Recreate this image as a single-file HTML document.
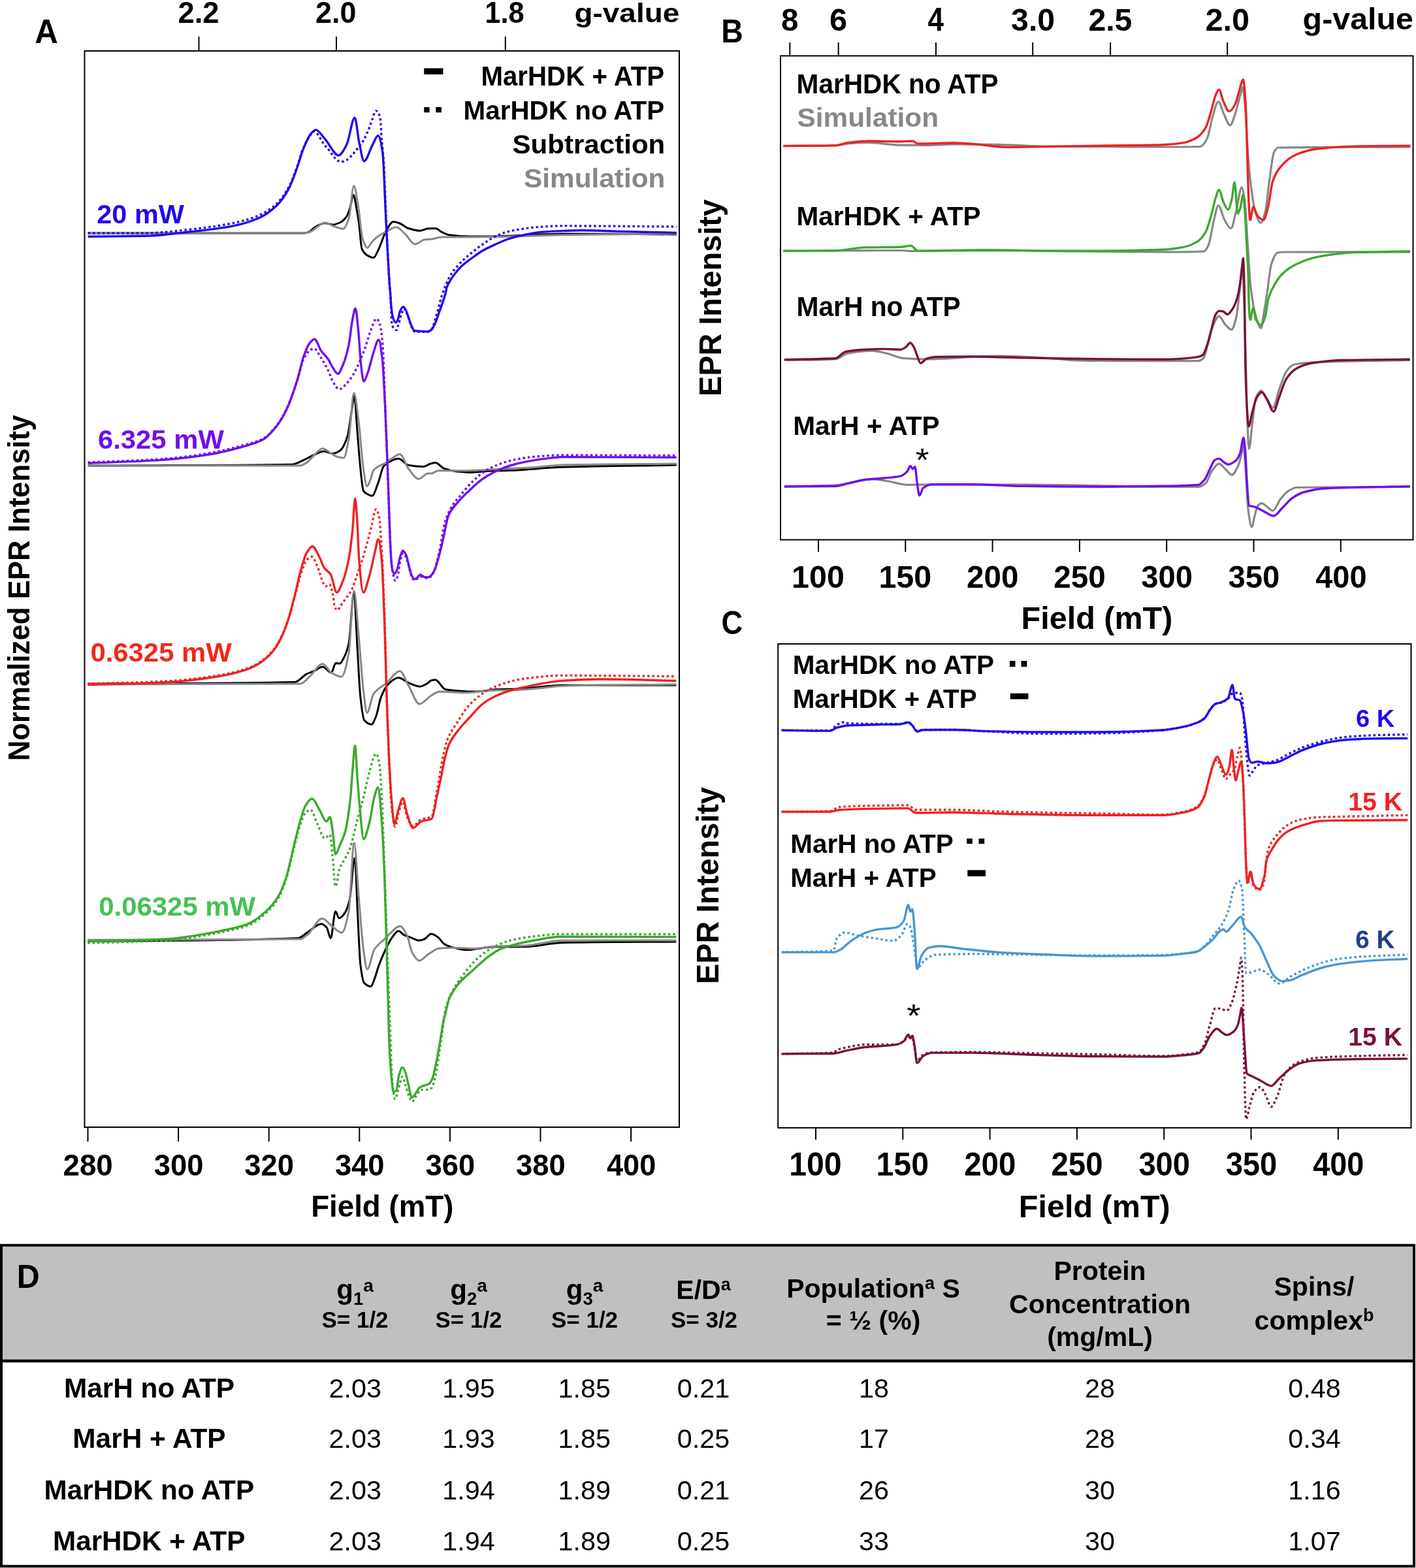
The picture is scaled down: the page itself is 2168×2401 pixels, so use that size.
<!DOCTYPE html>
<html><head><meta charset="utf-8"><title>EPR figure</title>
<style>
html,body{margin:0;padding:0;background:#fff;}
svg{display:block;}
</style></head>
<body>
<svg width="2168" height="2401" viewBox="0 0 2168 2401">
<rect width="2168" height="2401" fill="#fff"/>
<g fill="none" stroke="#000" stroke-width="2">
<rect x="129.5" y="78" width="910.5" height="1648"/>
<line x1="304.5" y1="56" x2="304.5" y2="78"/>
<line x1="515.0" y1="56" x2="515.0" y2="78"/>
<line x1="773.8" y1="56" x2="773.8" y2="78"/>
<line x1="134.5" y1="1726" x2="134.5" y2="1748"/>
<line x1="273.1" y1="1726" x2="273.1" y2="1748"/>
<line x1="411.7" y1="1726" x2="411.7" y2="1748"/>
<line x1="550.3" y1="1726" x2="550.3" y2="1748"/>
<line x1="688.9" y1="1726" x2="688.9" y2="1748"/>
<line x1="827.5" y1="1726" x2="827.5" y2="1748"/>
<line x1="966.1" y1="1726" x2="966.1" y2="1748"/>
</g>
<g fill="none" stroke-linejoin="round">
<path d="M134.7 357.0C223.1 357.0 311.6 357.0 400.0 357.0C421.7 357.0 443.3 357.0 465.0 357.0C468.3 357.0 471.7 355.5 475.0 354.0C477.3 352.9 479.7 349.3 482.0 348.0C487.3 345.0 492.5 341.8 497.8 341.8C501.9 341.8 505.9 344.0 510.0 344.0C513.3 344.0 516.7 342.5 520.0 341.0C523.6 339.4 527.2 336.4 530.8 331.3C532.5 328.9 534.3 323.3 536.0 318.0C537.7 312.7 539.5 298.4 541.2 298.4C542.8 298.4 544.4 311.6 546.0 320.0C547.3 327.0 548.7 335.2 550.0 345.0C551.3 354.8 552.7 377.8 554.0 380.8C557.2 388.1 560.5 390.2 563.7 391.8C566.5 393.2 569.2 394.5 572.0 394.5C574.7 394.5 577.3 386.3 580.0 381.0C583.7 373.6 587.5 359.5 591.2 353.3C594.9 347.2 598.5 339.6 602.2 339.6C605.5 339.6 608.7 340.9 612.0 342.0C616.1 343.4 620.1 347.9 624.2 349.2C630.6 351.3 637.0 353.3 643.4 353.3C647.3 353.3 651.1 350.1 655.0 350.0C658.9 349.9 662.7 349.8 666.6 349.8C669.9 349.8 673.2 353.8 676.5 355.3C680.2 357.0 683.8 359.2 687.5 359.7C698.5 361.1 709.4 361.9 720.4 361.9C729.6 361.9 738.7 361.9 747.9 361.9C758.9 361.9 769.9 361.6 780.9 361.3C795.5 360.9 810.2 359.7 824.8 359.1C836.5 358.7 848.3 358.0 860.0 358.0C918.6 358.0 977.2 358.7 1035.8 359.0" stroke="#000" stroke-width="3.0"/>
<path d="M134.7 357.0C244.8 357.0 354.9 357.0 465.0 357.0C468.3 357.0 471.7 356.0 475.0 355.0C478.3 354.0 481.7 350.1 485.0 348.0C489.3 345.4 493.5 341.0 497.8 341.0C501.9 341.0 505.9 344.6 510.0 346.0C515.1 347.8 520.2 350.5 525.3 350.5C528.2 350.5 531.1 343.2 534.0 335.0C536.6 327.7 539.2 284.6 541.8 284.6C544.2 284.6 546.6 305.7 549.0 320.0C551.0 332.0 553.0 358.7 555.0 365.0C557.5 372.8 559.9 379.4 562.4 379.4C564.9 379.4 567.5 372.7 570.0 370.0C573.3 366.5 576.7 363.2 580.0 361.0C583.7 358.5 587.5 356.9 591.2 355.0C596.2 352.5 601.3 347.8 606.3 347.8C610.9 347.8 615.4 354.0 620.0 358.0C625.1 362.4 630.1 373.9 635.2 373.9C640.1 373.9 645.1 367.6 650.0 367.0C653.3 366.6 656.7 366.6 660.0 366.3C665.5 365.8 671.0 363.0 676.5 363.0C689.3 363.0 702.2 363.0 715.0 363.0C733.3 363.0 751.7 362.8 770.0 362.5C788.3 362.2 806.5 361.4 824.8 360.8C836.5 360.4 848.3 359.9 860.0 359.7C918.6 358.7 977.2 358.6 1035.8 358.0" stroke="#878787" stroke-width="3.0"/>
<path d="M134.7 357.0C163.9 357.0 193.0 357.0 222.2 357.0C246.5 357.0 270.8 353.4 295.1 350.8C315.1 348.6 335.0 346.0 355.0 342.0C368.7 339.3 382.3 335.7 396.0 330.0C405.2 326.2 414.4 320.4 423.6 312.0C430.0 306.2 436.5 296.8 442.9 285.0C446.5 278.3 450.2 267.7 453.8 258.0C457.5 248.2 461.1 234.2 464.8 226.0C468.5 217.8 472.1 210.1 475.8 206.0C477.7 203.8 479.7 201.0 481.6 201.0C483.2 201.0 484.8 203.8 486.4 205.7C489.3 209.2 492.3 215.8 495.2 219.8C498.1 223.8 501.1 226.6 504.0 230.3C506.9 233.9 509.8 239.0 512.7 241.7C515.6 244.4 518.6 247.9 521.5 247.9C524.4 247.9 527.4 246.5 530.3 245.2C533.2 243.9 536.2 240.3 539.1 237.3C542.0 234.3 545.0 230.6 547.9 226.8C550.8 223.0 553.8 219.5 556.7 214.5C559.6 209.5 562.6 202.5 565.5 195.2C567.0 191.5 568.4 186.6 569.9 182.9C571.8 178.1 573.7 169.7 575.6 169.7C577.5 169.7 579.4 172.6 581.3 177.6C581.9 179.2 582.5 184.1 583.1 190.8C583.4 194.2 583.7 204.2 584.0 208.4C584.6 216.3 585.1 219.7 585.7 226.0C586.3 232.7 586.9 238.7 587.5 248.0C588.7 266.1 589.8 305.1 591.0 330.0C592.9 370.5 594.8 413.9 596.7 440.0C597.1 445.9 597.6 448.7 598.0 455.0C598.7 464.7 599.3 493.4 600.0 496.0C601.3 501.2 602.7 502.7 604.0 503.7C605.2 504.6 606.3 505.4 607.5 505.4C608.3 505.4 609.0 500.4 609.8 497.9C610.6 495.4 611.3 493.2 612.1 490.4C612.7 488.3 613.2 485.3 613.8 483.5C614.6 480.9 615.4 479.2 616.2 477.1C616.8 475.6 617.3 472.5 617.9 472.5C619.3 472.5 620.6 475.6 622.0 478.0C623.3 480.3 624.7 484.4 626.0 488.0C627.3 491.6 628.7 497.2 630.0 500.0C631.5 503.3 633.1 507.3 634.6 507.5C637.3 507.9 640.0 507.9 642.7 508.0C646.5 508.2 650.4 508.5 654.2 508.5C656.1 508.5 658.1 507.2 660.0 505.5C660.7 504.9 661.3 503.4 662.0 502.0C664.0 497.8 666.0 490.6 668.0 484.0C671.0 474.2 674.0 459.9 677.0 451.0C679.9 442.3 682.9 435.1 685.8 429.0C687.8 424.8 689.9 421.0 691.9 418.0C694.8 413.6 697.8 410.3 700.7 407.0C704.3 402.9 708.0 399.3 711.6 396.0C716.0 392.0 720.4 388.5 724.8 385.0C729.6 381.2 734.3 377.3 739.1 374.0C745.0 369.9 750.8 365.9 756.7 363.0C762.9 359.9 769.2 357.0 775.4 355.3C782.7 353.3 790.1 352.0 797.4 350.9C806.5 349.5 815.7 348.2 824.8 347.6C836.5 346.8 848.3 345.9 860.0 345.9C918.6 345.9 977.2 346.7 1035.8 347.1" stroke="#2108ee" stroke-width="3.4" stroke-dasharray="3.4 4.0"/>
<path d="M134.7 362.3C163.9 362.0 193.0 361.9 222.2 361.3C246.5 360.8 270.8 357.2 295.1 354.5C315.1 352.3 335.0 350.2 355.0 346.4C368.7 343.8 382.3 339.9 396.0 334.0C405.2 330.0 414.4 323.6 423.6 314.8C430.0 308.7 436.5 299.4 442.9 287.4C446.5 280.6 450.2 269.9 453.8 260.0C457.5 250.0 461.1 235.8 464.8 227.0C468.5 218.2 472.1 209.1 475.8 205.0C478.4 202.2 480.9 198.9 483.5 198.9C488.3 198.9 493.0 208.0 497.8 213.2C504.7 220.6 511.5 237.9 518.4 237.9C522.5 237.9 526.7 229.3 530.8 221.4C534.9 213.6 539.0 180.2 543.1 180.2C545.4 180.2 547.7 208.3 550.0 218.7C552.5 229.8 554.9 246.7 557.4 246.7C561.8 246.7 566.2 229.2 570.6 221.4C573.3 216.5 576.1 207.7 578.8 207.7C581.1 207.7 583.4 218.1 585.7 232.4C587.5 243.8 589.4 308.1 591.2 342.3C593.0 376.5 594.9 414.2 596.7 438.5C597.0 442.9 597.4 445.6 597.7 450.0C598.1 454.9 598.4 463.5 598.8 467.3C599.6 475.6 600.4 481.9 601.2 484.6C602.7 489.7 604.3 493.9 605.8 493.9C606.9 493.9 608.1 491.5 609.2 489.2C610.4 486.8 611.5 478.4 612.7 476.0C614.2 472.8 615.8 469.6 617.3 469.6C618.8 469.6 620.4 473.1 621.9 476.0C623.1 478.2 624.2 482.5 625.4 485.8C626.9 490.1 628.5 495.8 630.0 499.0C631.5 502.2 633.1 506.3 634.6 506.5C637.3 506.9 640.0 506.9 642.7 507.1C646.5 507.3 650.4 507.7 654.2 507.7C656.1 507.7 658.1 506.6 660.0 505.4C661.9 504.2 663.9 500.1 665.8 496.2C667.7 492.4 669.6 485.9 671.5 480.6C673.4 475.3 675.4 470.1 677.3 464.4C678.8 459.9 680.4 455.7 681.9 450.0C682.7 447.2 683.4 442.2 684.2 440.0C686.0 434.7 687.9 432.1 689.7 429.0C692.3 424.7 694.8 421.2 697.4 418.0C700.7 413.9 704.0 410.0 707.3 407.0C712.0 402.6 716.8 399.5 721.5 396.0C726.6 392.2 731.8 388.1 736.9 385.0C744.2 380.6 751.6 377.3 758.9 374.0C766.2 370.7 773.6 367.5 780.9 365.2C788.2 362.9 795.6 361.1 802.9 359.7C812.0 357.9 821.2 356.1 830.3 355.3C840.2 354.5 850.1 354.0 860.0 353.6C870.3 353.2 880.5 352.8 890.8 352.8C911.5 352.8 932.1 354.0 952.8 354.5C980.5 355.2 1008.1 355.8 1035.8 356.5" stroke="#2108ee" stroke-width="3.4"/>
<path d="M134.7 713.0C238.8 712.4 342.9 712.9 447.0 711.2C452.9 711.1 458.9 707.0 464.8 704.5C470.0 702.3 475.3 698.9 480.5 696.7C485.7 694.5 490.9 691.1 496.1 691.1C500.4 691.1 504.7 694.5 509.0 694.5C512.9 694.5 516.8 692.5 520.7 690.0C524.4 687.6 528.1 680.0 531.8 668.8C534.0 662.0 536.3 641.5 538.5 628.6C539.8 620.9 541.2 606.3 542.5 606.3C544.0 606.3 545.5 642.2 547.0 660.0C548.6 679.4 550.3 703.0 551.9 717.9C553.4 731.6 554.9 749.0 556.4 751.4C558.6 754.9 560.8 756.0 563.0 757.0C565.3 758.1 567.5 759.2 569.8 759.2C572.8 759.2 575.7 747.6 578.7 740.2C581.7 732.8 584.6 716.9 587.6 713.4C591.1 709.3 594.5 707.5 598.0 706.0C602.0 704.3 606.0 702.3 610.0 702.3C615.2 702.3 620.4 711.4 625.6 712.3C633.1 713.6 640.5 714.5 648.0 714.5C652.0 714.5 656.0 710.6 660.0 709.7C662.2 709.2 664.4 708.6 666.6 708.6C671.0 708.6 675.4 715.9 679.8 717.4C686.5 719.8 693.3 721.3 700.0 722.0C706.8 722.7 713.6 723.4 720.4 723.4C729.6 723.4 738.7 721.6 747.9 721.2C762.6 720.6 777.2 720.7 791.9 720.1C802.9 719.7 813.8 718.2 824.8 717.4C836.5 716.6 848.3 715.6 860.0 715.2C918.6 713.4 977.2 713.1 1035.8 712.1" stroke="#000" stroke-width="3.0"/>
<path d="M134.7 713.0C243.1 713.0 351.6 713.0 460.0 713.0C463.3 713.0 466.7 710.2 470.0 708.0C474.0 705.4 478.0 699.5 482.0 696.0C486.0 692.5 489.9 686.7 493.9 686.7C497.6 686.7 501.3 690.8 505.0 693.0C508.3 694.9 511.7 698.0 515.0 699.0C518.7 700.1 522.5 701.2 526.2 701.2C528.8 701.2 531.4 685.7 534.0 672.0C536.6 658.1 539.3 601.8 541.9 601.8C544.5 601.8 547.1 630.8 549.7 651.0C551.9 668.4 554.2 703.7 556.4 718.0C558.3 729.9 560.1 744.7 562.0 744.7C563.7 744.7 565.3 738.9 567.0 735.0C568.7 731.1 570.3 721.9 572.0 720.0C578.7 712.3 585.3 712.5 592.0 708.0C594.7 706.2 597.3 703.7 600.0 702.0C604.1 699.5 608.1 695.6 612.2 695.6C616.7 695.6 621.1 712.4 625.6 718.0C630.8 724.5 636.0 733.5 641.2 733.5C645.8 733.5 650.4 725.0 655.0 725.0C656.7 725.0 658.3 725.1 660.0 725.1C663.7 725.1 667.3 720.7 671.0 720.7C685.7 720.7 700.3 720.7 715.0 720.7C733.3 720.7 751.6 718.8 769.9 717.9C784.3 717.2 798.6 716.8 813.0 716.0C828.7 715.1 844.3 712.3 860.0 711.9C918.6 710.6 977.2 710.6 1035.8 710.0" stroke="#878787" stroke-width="3.0"/>
<path d="M134.7 708.0C172.0 706.3 209.2 705.5 246.5 703.0C270.8 701.4 295.1 698.0 319.4 694.0C335.6 691.4 351.8 687.3 368.0 683.0C379.4 679.9 390.9 677.7 402.3 672.0C409.8 668.3 417.2 659.4 424.7 650.0C429.1 644.4 433.6 636.9 438.0 628.0C441.0 622.0 444.0 614.0 447.0 606.0C450.0 598.1 452.9 589.3 455.9 580.0C458.9 570.7 461.8 556.0 464.8 550.0C467.8 543.9 470.8 539.2 473.8 537.0C476.0 535.4 478.3 533.7 480.5 533.7C484.2 533.7 487.9 542.5 491.6 548.0C495.3 553.6 499.1 560.3 502.8 568.0C505.2 572.9 507.6 581.2 510.0 585.0C513.2 590.1 516.3 596.2 519.5 596.2C523.0 596.2 526.5 591.4 530.0 588.0C533.3 584.7 536.7 580.3 540.0 575.0C543.3 569.7 546.7 562.4 550.0 555.0C553.3 547.6 556.7 539.3 560.0 530.0C562.7 522.6 565.3 511.5 568.0 505.0C570.8 498.1 573.7 488.0 576.5 488.0C578.3 488.0 580.2 492.4 582.0 498.0C583.3 502.1 584.7 513.9 586.0 530.0C587.3 546.1 588.7 594.3 590.0 628.0C591.4 664.2 592.9 699.6 594.3 740.0C595.2 765.4 596.1 801.9 597.0 822.0C597.7 836.9 598.3 850.9 599.0 858.0C600.0 868.7 601.0 875.8 602.0 880.0C603.1 884.4 604.1 889.2 605.2 889.2C606.5 889.2 607.9 884.8 609.2 880.6C610.5 876.6 611.7 862.5 613.0 858.0C614.4 852.9 615.9 847.1 617.3 847.1C618.9 847.1 620.4 850.7 622.0 854.0C623.3 856.8 624.7 863.3 626.0 868.0C627.3 872.7 628.7 879.3 630.0 882.0C631.5 885.1 633.1 888.5 634.6 888.5C636.4 888.5 638.2 886.4 640.0 885.5C642.0 884.5 644.0 883.0 646.0 883.0C649.0 883.0 652.0 885.5 655.0 885.5C656.7 885.5 658.3 884.0 660.0 882.5C661.9 880.8 663.9 876.8 665.8 872.0C667.2 868.5 668.6 861.8 670.0 856.0C671.3 850.5 672.7 844.5 674.0 838.0C676.3 826.8 678.6 809.0 680.9 801.0C683.8 790.8 686.8 784.3 689.7 779.0C695.2 769.1 700.7 763.7 706.2 757.0C712.8 749.0 719.3 741.2 725.9 735.0C730.3 730.8 734.7 727.0 739.1 724.0C745.7 719.5 752.3 715.7 758.9 713.0C768.1 709.2 777.2 706.2 786.4 704.2C795.5 702.2 804.7 700.6 813.8 699.8C829.2 698.4 844.6 697.0 860.0 697.0C918.6 697.0 977.2 697.3 1035.8 697.5" stroke="#700ded" stroke-width="3.4" stroke-dasharray="3.4 4.0"/>
<path d="M134.7 709.3C172.0 707.7 209.2 706.8 246.5 704.4C270.8 702.8 295.1 699.8 319.4 696.0C335.6 693.5 351.8 689.5 368.0 685.0C379.4 681.9 390.9 679.3 402.3 673.3C409.8 669.4 417.2 660.6 424.7 651.0C429.1 645.3 433.6 637.6 438.0 628.6C441.0 622.5 444.0 614.5 447.0 606.3C450.0 598.2 452.9 589.4 455.9 579.5C458.9 569.6 461.8 554.3 464.8 546.0C467.8 537.6 470.8 529.6 473.8 525.9C476.4 522.7 479.0 519.2 481.6 519.2C484.9 519.2 488.3 532.3 491.6 537.1C495.3 542.5 499.1 545.0 502.8 550.5C504.9 553.6 506.9 558.9 509.0 562.0C511.8 566.2 514.5 572.3 517.3 572.3C519.9 572.3 522.4 564.8 525.0 559.0C528.0 552.2 531.0 542.2 534.0 528.1C535.9 519.4 537.7 499.2 539.6 490.0C541.1 482.6 542.6 472.3 544.1 472.3C545.6 472.3 547.1 491.9 548.6 506.0C550.1 519.8 551.5 550.3 553.0 561.6C554.3 571.9 555.7 584.0 557.0 584.0C559.0 584.0 561.0 576.3 563.0 571.0C566.0 563.1 569.0 547.9 572.0 539.3C574.6 531.8 577.2 520.3 579.8 520.3C581.7 520.3 583.5 534.8 585.4 550.5C586.9 563.1 588.4 597.7 589.9 628.6C591.4 658.8 592.8 700.7 594.3 740.2C595.2 765.4 596.2 798.1 597.1 820.0C597.7 833.3 598.2 847.2 598.8 854.6C599.4 862.5 600.0 869.5 600.6 871.9C601.6 875.8 602.5 878.9 603.5 878.9C605.0 878.9 606.6 875.4 608.1 871.9C609.4 868.9 610.8 858.9 612.1 854.6C613.6 849.7 615.2 843.1 616.7 843.1C618.4 843.1 620.2 846.5 621.9 850.0C623.1 852.4 624.2 858.9 625.4 863.3C626.9 869.1 628.5 877.5 630.0 880.6C631.5 883.7 633.1 886.9 634.6 886.9C636.3 886.9 638.1 884.9 639.8 883.5C641.0 882.6 642.1 880.0 643.3 880.0C644.3 880.0 645.2 880.7 646.2 881.2C647.3 881.8 648.5 883.3 649.6 883.5C651.5 883.8 653.5 884.0 655.4 884.0C656.9 884.0 658.5 882.5 660.0 881.2C661.9 879.5 663.9 876.1 665.8 871.9C667.3 868.6 668.9 862.7 670.4 857.5C671.9 852.3 673.5 846.4 675.0 840.2C676.5 834.0 678.1 826.7 679.6 820.0C681.9 810.0 684.1 795.2 686.4 790.0C691.5 778.1 696.7 774.1 701.8 768.0C707.3 761.5 712.7 756.6 718.2 751.4C724.4 745.5 730.7 739.4 736.9 734.9C742.8 730.6 748.6 727.0 754.5 724.0C763.3 719.6 772.1 715.7 780.9 713.0C790.1 710.2 799.2 708.1 808.4 706.4C821.2 704.1 834.0 702.2 846.8 700.9C851.2 700.5 855.6 699.8 860.0 699.8C918.6 699.8 977.2 700.2 1035.8 700.4" stroke="#700ded" stroke-width="3.4"/>
<path d="M134.2 1047.0C239.9 1046.2 345.7 1046.8 451.4 1044.5C457.4 1044.4 463.3 1035.2 469.3 1032.2C473.0 1030.3 476.8 1029.4 480.5 1027.7C485.0 1025.7 489.4 1021.0 493.9 1021.0C498.4 1021.0 502.8 1030.0 507.3 1030.0C509.5 1030.0 511.8 1015.4 514.0 1015.4C516.0 1015.4 518.0 1016.0 520.0 1016.0C522.5 1016.0 524.9 1010.2 527.4 1005.4C529.6 1001.1 531.8 995.4 534.0 985.3C536.6 973.2 539.3 907.2 541.9 907.2C543.6 907.2 545.3 962.7 547.0 990.0C548.6 1016.2 550.3 1053.2 551.9 1067.9C553.8 1084.7 555.6 1100.3 557.5 1102.5C561.2 1107.0 565.0 1109.2 568.7 1109.2C571.1 1109.2 573.6 1102.0 576.0 1096.0C578.4 1090.1 580.8 1074.0 583.2 1067.9C586.9 1058.5 590.6 1051.4 594.3 1047.8C599.5 1042.7 604.8 1037.8 610.0 1037.8C615.2 1037.8 620.4 1043.6 625.6 1045.6C631.5 1047.9 637.5 1051.2 643.4 1051.2C647.3 1051.2 651.1 1048.3 655.0 1046.0C656.7 1045.0 658.3 1042.4 660.0 1042.0C662.2 1041.4 664.4 1041.0 666.6 1041.0C671.7 1041.0 676.9 1054.8 682.0 1055.8C689.3 1057.2 696.7 1057.5 704.0 1058.0C711.3 1058.5 718.7 1059.1 726.0 1059.1C737.0 1059.1 748.0 1056.4 759.0 1055.8C770.0 1055.3 780.9 1055.2 791.9 1054.7C802.9 1054.2 813.8 1052.9 824.8 1052.0C836.5 1051.1 848.3 1049.2 860.0 1049.2C918.4 1049.2 976.9 1049.2 1035.3 1049.2" stroke="#000" stroke-width="3.0"/>
<path d="M134.2 1047.8C242.8 1047.5 351.4 1047.8 460.0 1047.0C464.7 1047.0 469.3 1040.0 474.0 1036.0C480.6 1030.3 487.3 1016.6 493.9 1016.6C498.4 1016.6 502.8 1027.4 507.3 1030.0C512.5 1033.0 517.7 1036.2 522.9 1036.2C526.6 1036.2 530.3 1019.6 534.0 1000.0C536.6 986.0 539.3 904.9 541.9 904.9C544.5 904.9 547.1 952.7 549.7 980.0C551.9 1003.5 554.2 1039.3 556.4 1057.0C558.3 1071.8 560.1 1091.4 562.0 1091.4C565.3 1091.4 568.7 1066.9 572.0 1062.3C578.7 1053.1 585.4 1051.4 592.1 1045.6C598.8 1039.8 605.5 1027.7 612.2 1027.7C616.7 1027.7 621.1 1042.5 625.6 1050.0C631.2 1059.3 636.7 1078.0 642.3 1078.0C648.2 1078.0 654.1 1068.5 660.0 1065.2C664.4 1062.7 668.8 1059.1 673.2 1059.1C687.1 1059.1 701.1 1060.8 715.0 1060.8C726.0 1060.8 736.9 1057.9 747.9 1057.5C762.6 1056.9 777.2 1057.0 791.9 1056.5C802.9 1056.1 813.8 1054.9 824.8 1054.0C836.5 1053.0 848.3 1050.9 860.0 1050.5C918.4 1048.8 976.9 1048.8 1035.3 1048.0" stroke="#878787" stroke-width="3.0"/>
<path d="M134.2 1047.0C175.0 1045.7 215.7 1045.2 256.5 1043.0C282.8 1041.6 309.1 1038.2 335.4 1034.0C350.3 1031.6 365.1 1028.2 380.0 1023.0C387.4 1020.4 394.9 1016.3 402.3 1011.0C408.3 1006.8 414.2 1000.8 420.2 993.0C424.7 987.2 429.1 978.7 433.6 969.0C436.6 962.5 439.5 954.1 442.5 945.0C445.5 935.9 448.4 923.8 451.4 913.0C454.4 902.1 457.4 888.9 460.4 880.0C463.4 871.2 466.3 861.2 469.3 858.0C471.9 855.2 474.5 852.5 477.1 852.5C480.3 852.5 483.4 861.9 486.6 869.0C488.6 873.5 490.6 882.5 492.6 887.0C494.6 891.5 496.5 897.8 498.5 897.8C500.5 897.8 502.5 894.8 504.5 894.8C506.1 894.8 507.8 902.0 509.4 908.7C510.4 912.8 511.4 926.1 512.4 928.6C513.7 931.9 515.1 934.5 516.4 934.5C518.0 934.5 519.7 929.9 521.3 927.6C524.0 923.9 526.6 920.5 529.3 916.7C532.6 912.0 535.9 908.4 539.2 901.8C541.8 896.5 544.5 886.5 547.1 879.0C549.4 872.3 551.8 866.4 554.1 859.1C557.4 848.8 560.7 836.8 564.0 824.4C565.7 818.2 567.3 810.9 569.0 804.6C571.3 795.9 573.6 779.8 575.9 779.8C577.6 779.8 579.2 785.9 580.9 794.6C581.6 798.1 582.2 810.2 582.9 819.4C583.5 828.2 584.2 837.5 584.8 849.2C586.2 875.1 587.6 908.3 589.0 950.0C590.0 980.8 591.1 1035.6 592.1 1067.9C593.6 1114.8 595.1 1155.4 596.6 1185.0C597.7 1207.4 598.9 1230.9 600.0 1240.0C601.7 1253.7 603.4 1266.0 605.1 1266.0C606.7 1266.0 608.4 1250.2 610.0 1245.0C612.3 1237.7 614.5 1228.0 616.8 1228.0C618.9 1228.0 620.9 1245.3 623.0 1250.0C626.1 1257.1 629.3 1265.0 632.4 1265.0C636.5 1265.0 640.6 1256.9 644.7 1255.0C650.1 1252.5 655.6 1253.5 661.0 1250.0C663.7 1248.3 666.5 1224.2 669.2 1210.0C672.7 1191.7 676.3 1165.5 679.8 1151.0C682.0 1142.0 684.2 1134.1 686.4 1129.0C690.8 1118.8 695.2 1114.1 699.6 1107.0C704.3 1099.4 709.1 1090.8 713.8 1085.0C719.3 1078.3 724.8 1073.1 730.3 1068.5C735.4 1064.2 740.6 1060.3 745.7 1057.5C752.3 1053.8 758.9 1051.0 765.5 1048.7C774.3 1045.6 783.1 1042.6 791.9 1041.0C802.9 1039.0 813.8 1037.6 824.8 1036.6C835.8 1035.6 846.8 1034.4 857.8 1034.4C917.0 1034.4 976.1 1035.2 1035.3 1035.6" stroke="#ee2222" stroke-width="3.4" stroke-dasharray="3.4 4.0"/>
<path d="M134.2 1048.6C175.0 1047.3 215.7 1046.8 256.5 1044.7C282.8 1043.3 309.1 1039.8 335.4 1035.5C350.3 1033.1 365.1 1029.7 380.0 1024.4C387.4 1021.7 394.9 1017.4 402.3 1012.1C408.3 1007.8 414.2 1002.0 420.2 994.2C424.7 988.3 429.1 979.7 433.6 969.7C436.6 963.1 439.5 954.6 442.5 945.1C445.5 935.6 448.4 923.4 451.4 911.6C454.4 899.7 457.4 884.2 460.4 873.7C463.4 863.3 466.3 851.8 469.3 846.9C472.3 842.0 475.2 836.8 478.2 836.8C481.9 836.8 485.7 846.7 489.4 853.6C491.6 857.8 493.9 866.0 496.1 869.2C499.4 874.0 502.8 874.3 506.1 879.3C509.3 884.1 512.5 907.2 515.7 907.2C518.8 907.2 522.0 897.2 525.1 889.3C528.1 881.8 531.0 871.1 534.0 855.8C535.9 846.2 537.7 831.1 539.6 813.4C541.0 800.5 542.3 763.2 543.7 763.2C544.8 763.2 545.9 783.9 547.0 800.0C547.9 813.2 548.8 845.0 549.7 855.8C551.9 882.5 554.2 907.2 556.4 907.2C559.4 907.2 562.3 892.5 565.3 882.6C568.3 872.7 571.2 856.6 574.2 844.7C575.9 838.0 577.5 825.7 579.2 825.7C580.9 825.7 582.6 839.7 584.3 855.8C585.8 870.0 587.3 915.5 588.8 956.3C589.9 986.2 591.0 1036.2 592.1 1067.9C593.6 1111.2 595.1 1152.0 596.6 1179.5C597.7 1200.3 598.9 1217.6 600.0 1230.0C601.2 1243.5 602.5 1261.9 603.7 1261.9C605.8 1261.9 607.9 1246.3 610.0 1240.0C612.3 1233.2 614.5 1222.3 616.8 1222.3C618.9 1222.3 620.9 1238.9 623.0 1245.0C626.1 1254.3 629.3 1267.9 632.4 1267.9C636.5 1267.9 640.6 1259.4 644.7 1257.8C650.1 1255.7 655.6 1256.6 661.0 1253.7C663.7 1252.3 666.5 1230.3 669.2 1218.2C671.3 1209.0 673.3 1199.9 675.4 1190.0C677.2 1181.2 679.1 1169.4 680.9 1162.0C683.1 1153.1 685.3 1144.9 687.5 1140.0C692.3 1129.5 697.0 1124.2 701.8 1118.0C708.4 1109.4 714.9 1103.2 721.5 1096.0C726.6 1090.4 731.8 1083.7 736.9 1079.5C742.4 1075.0 747.9 1071.3 753.4 1068.5C762.6 1063.8 771.7 1060.2 780.9 1057.5C791.9 1054.2 802.8 1051.9 813.8 1049.8C828.5 1047.0 843.1 1043.6 857.8 1042.6C878.5 1041.2 899.3 1040.0 920.0 1040.0C958.4 1040.0 996.9 1041.7 1035.3 1042.5" stroke="#ee2222" stroke-width="3.4"/>
<path d="M134.2 1441.4C241.6 1439.8 349.0 1441.0 456.4 1436.5C460.9 1436.3 465.5 1431.1 470.0 1428.3C477.3 1423.8 484.6 1414.7 491.9 1414.7C494.6 1414.7 497.3 1417.1 500.0 1420.0C502.1 1422.3 504.2 1436.5 506.3 1436.5C508.8 1436.5 511.2 1395.6 513.7 1395.6C515.5 1395.6 517.2 1406.0 519.0 1406.0C522.0 1406.0 525.0 1402.1 528.0 1398.0C530.5 1394.6 533.0 1387.1 535.5 1376.5C538.1 1365.6 540.6 1313.7 543.2 1313.7C544.7 1313.7 546.1 1372.5 547.6 1400.0C549.0 1426.9 550.5 1466.0 551.9 1477.4C553.7 1492.0 555.6 1502.7 557.4 1504.7C560.9 1508.6 564.4 1510.6 567.9 1510.6C569.6 1510.6 571.3 1504.2 573.0 1500.0C575.3 1494.4 577.5 1485.1 579.8 1478.9C583.3 1469.4 586.8 1461.1 590.3 1453.8C593.4 1447.4 596.5 1440.9 599.6 1436.7C603.1 1431.9 606.6 1425.5 610.1 1425.5C613.1 1425.5 616.0 1430.6 619.0 1432.0C622.2 1433.5 625.4 1434.3 628.6 1435.4C633.0 1436.9 637.4 1440.0 641.8 1440.0C644.5 1440.0 647.3 1439.0 650.0 1438.0C653.3 1436.8 656.7 1430.0 660.0 1430.0C663.7 1430.0 667.3 1432.9 671.0 1435.4C673.9 1437.4 676.9 1443.3 679.8 1445.3C682.4 1447.0 684.9 1448.2 687.5 1449.0C696.7 1451.8 705.8 1454.6 715.0 1454.6C722.3 1454.6 729.7 1452.7 737.0 1451.9C744.3 1451.1 751.7 1449.7 759.0 1449.7C773.6 1449.7 788.3 1449.7 802.9 1449.7C817.5 1449.7 832.2 1446.1 846.8 1444.7C851.2 1444.3 855.6 1443.7 860.0 1443.6C918.4 1442.4 976.9 1442.5 1035.3 1442.0" stroke="#000" stroke-width="3.0"/>
<path d="M134.2 1439.2C242.8 1438.8 351.4 1439.1 460.0 1438.0C464.0 1438.0 468.0 1433.3 472.0 1430.0C479.1 1424.2 486.1 1406.5 493.2 1406.5C498.1 1406.5 503.1 1414.4 508.0 1418.0C513.1 1421.7 518.1 1428.3 523.2 1428.3C526.8 1428.3 530.4 1413.3 534.0 1395.0C536.8 1380.9 539.5 1290.5 542.3 1290.5C544.5 1290.5 546.8 1344.0 549.0 1370.0C551.3 1397.2 553.7 1432.9 556.0 1450.0C558.1 1465.4 560.2 1484.2 562.3 1484.2C565.9 1484.2 569.6 1459.3 573.2 1453.8C578.9 1445.1 584.6 1441.9 590.3 1436.7C597.8 1429.9 605.2 1418.2 612.7 1418.2C616.2 1418.2 619.8 1425.7 623.3 1432.7C625.9 1437.9 628.6 1454.4 631.2 1459.0C634.7 1465.1 638.3 1471.0 641.8 1471.0C646.2 1471.0 650.6 1464.8 655.0 1461.8C656.7 1460.7 658.3 1459.5 660.0 1458.5C663.7 1456.3 667.3 1452.8 671.0 1452.4C678.3 1451.7 685.7 1451.3 693.0 1451.3C704.0 1451.3 715.0 1452.4 726.0 1452.4C737.0 1452.4 748.0 1449.6 759.0 1449.1C773.6 1448.5 788.3 1448.6 802.9 1448.0C821.9 1447.2 841.0 1440.4 860.0 1440.3C918.4 1440.1 976.9 1440.1 1035.3 1440.0" stroke="#878787" stroke-width="3.0"/>
<path d="M134.2 1444.0C175.0 1442.7 215.7 1442.3 256.5 1440.0C282.8 1438.5 309.1 1433.1 335.4 1428.0C350.3 1425.1 365.1 1422.6 380.0 1417.0C389.1 1413.6 398.2 1406.1 407.3 1398.0C412.8 1393.1 418.2 1387.4 423.7 1379.0C428.2 1372.0 432.8 1362.0 437.3 1349.0C440.9 1338.6 444.6 1320.0 448.2 1306.0C451.8 1292.0 455.5 1275.6 459.1 1265.0C461.8 1257.0 464.6 1247.7 467.3 1245.0C470.0 1242.3 472.8 1240.0 475.5 1240.0C479.0 1240.0 482.5 1255.0 486.0 1262.0C489.8 1269.6 493.5 1283.7 497.3 1283.7C499.9 1283.7 502.4 1278.0 505.0 1278.0C506.3 1278.0 507.7 1298.1 509.0 1310.0C510.6 1323.9 512.1 1357.4 513.7 1357.4C515.8 1357.4 517.9 1335.6 520.0 1330.0C522.7 1322.9 525.3 1320.2 528.0 1315.0C530.5 1310.2 533.0 1306.4 535.5 1300.0C539.0 1291.0 542.5 1273.2 546.0 1260.0C550.0 1244.9 554.0 1231.2 558.0 1215.0C560.7 1204.2 563.3 1188.8 566.0 1180.0C569.3 1169.1 572.6 1154.1 575.9 1154.1C577.6 1154.1 579.3 1161.0 581.0 1170.0C582.3 1177.1 583.7 1204.1 585.0 1230.0C586.3 1255.9 587.7 1302.4 589.0 1340.0C590.3 1375.7 591.5 1413.9 592.8 1450.0C594.2 1488.9 595.5 1529.9 596.9 1565.0C598.3 1600.1 599.6 1650.5 601.0 1662.0C602.4 1673.5 603.7 1682.9 605.1 1682.9C606.7 1682.9 608.4 1673.0 610.0 1668.0C612.1 1661.6 614.1 1648.7 616.2 1648.7C617.8 1648.7 619.4 1657.2 621.0 1662.0C622.3 1666.0 623.7 1671.8 625.0 1675.0C627.1 1680.1 629.2 1686.8 631.3 1686.8C632.9 1686.8 634.4 1682.1 636.0 1680.0C639.2 1675.8 642.4 1668.6 645.6 1668.6C648.5 1668.6 651.4 1668.6 654.3 1668.6C656.4 1668.6 658.5 1667.7 660.6 1666.2C661.7 1665.4 662.7 1662.1 663.8 1659.0C665.4 1654.3 667.0 1646.2 668.6 1637.6C669.9 1630.6 671.2 1620.1 672.5 1611.4C674.1 1600.7 675.7 1590.7 677.3 1579.7C678.9 1568.9 680.4 1552.5 682.0 1546.0C685.3 1532.2 688.6 1525.6 691.9 1519.0C696.7 1509.5 701.4 1503.6 706.2 1497.0C712.0 1488.9 717.9 1481.1 723.7 1475.0C729.9 1468.5 736.2 1462.9 742.4 1458.5C748.6 1454.1 754.9 1450.3 761.1 1447.5C769.5 1443.8 778.0 1440.6 786.4 1438.7C795.5 1436.7 804.7 1435.4 813.8 1434.3C828.5 1432.6 843.1 1430.4 857.8 1430.4C917.0 1430.4 976.1 1430.5 1035.3 1430.5" stroke="#3aaa2e" stroke-width="3.4" stroke-dasharray="3.4 4.0"/>
<path d="M134.2 1441.7C175.0 1440.4 215.7 1440.0 256.5 1437.8C282.8 1436.3 309.1 1431.1 335.4 1426.0C350.3 1423.1 365.1 1420.4 380.0 1414.7C389.1 1411.2 398.2 1403.7 407.3 1395.6C412.8 1390.7 418.2 1384.9 423.7 1376.5C428.2 1369.5 432.8 1359.5 437.3 1346.5C440.9 1336.0 444.6 1317.4 448.2 1302.8C451.8 1288.2 455.5 1271.5 459.1 1259.1C461.8 1249.8 464.6 1239.1 467.3 1234.6C470.8 1228.9 474.2 1223.1 477.7 1223.1C481.5 1223.1 485.3 1234.1 489.1 1240.0C492.7 1245.6 496.4 1257.8 500.0 1257.8C501.7 1257.8 503.3 1251.0 505.0 1251.0C506.3 1251.0 507.7 1262.1 509.0 1270.0C510.6 1279.3 512.1 1308.3 513.7 1308.3C515.8 1308.3 517.9 1299.8 520.0 1295.0C522.9 1288.3 525.8 1283.5 528.7 1272.8C531.4 1262.7 534.2 1243.6 536.9 1218.2C538.1 1207.0 539.3 1183.0 540.5 1170.0C541.5 1158.8 542.6 1141.6 543.6 1141.6C544.7 1141.6 545.9 1175.3 547.0 1190.0C548.2 1205.2 549.3 1220.2 550.5 1231.9C552.6 1253.0 554.7 1285.0 556.8 1285.0C559.5 1285.0 562.3 1271.8 565.0 1262.0C567.9 1251.6 570.8 1227.6 573.7 1218.2C575.3 1212.9 577.0 1205.9 578.6 1205.9C580.6 1205.9 582.6 1233.9 584.6 1259.1C586.0 1276.3 587.3 1306.8 588.7 1341.0C590.6 1388.6 592.5 1468.4 594.4 1540.0C594.8 1555.1 595.2 1576.4 595.6 1587.6C596.1 1601.6 596.6 1611.1 597.1 1619.4C597.9 1632.7 598.7 1643.5 599.5 1651.1C600.4 1660.0 601.4 1671.7 602.3 1671.7C603.8 1671.7 605.2 1671.2 606.7 1670.2C608.0 1669.3 609.3 1651.5 610.6 1647.1C612.5 1640.8 614.3 1634.4 616.2 1634.4C617.8 1634.4 619.4 1639.1 621.0 1643.2C622.3 1646.5 623.6 1653.9 624.9 1659.0C626.8 1666.4 628.6 1680.5 630.5 1680.5C632.3 1680.5 634.2 1677.1 636.0 1674.9C638.1 1672.3 640.3 1666.9 642.4 1665.4C644.8 1663.7 647.1 1663.1 649.5 1662.2C651.9 1661.3 654.3 1661.2 656.7 1659.8C658.5 1658.8 660.4 1655.3 662.2 1651.0C663.8 1647.3 665.4 1638.3 667.0 1631.0C668.3 1624.9 669.7 1618.2 671.0 1611.0C672.3 1604.0 673.6 1595.7 674.9 1588.0C676.2 1580.1 677.6 1570.2 678.9 1564.0C679.9 1559.2 681.0 1556.1 682.0 1552.0C683.8 1544.8 685.7 1534.6 687.5 1530.0C691.9 1519.0 696.3 1513.5 700.7 1508.0C708.4 1498.4 716.0 1493.0 723.7 1486.0C732.1 1478.3 740.6 1470.1 749.0 1464.0C754.9 1459.8 760.7 1455.5 766.6 1453.0C775.0 1449.5 783.5 1447.3 791.9 1445.3C801.0 1443.1 810.2 1441.3 819.3 1439.8C832.1 1437.6 845.0 1434.3 857.8 1434.3C917.0 1434.3 976.1 1434.6 1035.3 1434.7" stroke="#3aaa2e" stroke-width="3.4"/>
</g>
<g font-family="'Liberation Sans', Arial, sans-serif">
<text x="53.3" y="66.0" font-size="51.20" font-weight="bold" fill="#000" textLength="35.6" lengthAdjust="spacingAndGlyphs">A</text>
<text x="272.4" y="34.6" font-size="45.30" font-weight="bold" fill="#000" textLength="63.1" lengthAdjust="spacingAndGlyphs">2.2</text>
<text x="483.0" y="34.6" font-size="45.30" font-weight="bold" fill="#000" textLength="62.4" lengthAdjust="spacingAndGlyphs">2.0</text>
<text x="742.3" y="34.6" font-size="45.30" font-weight="bold" fill="#000" textLength="60.3" lengthAdjust="spacingAndGlyphs">1.8</text>
<text x="879.5" y="33.5" font-size="41.38" font-weight="bold" fill="#000" textLength="160.7" lengthAdjust="spacingAndGlyphs">g-value</text>
<text x="96.5" y="1800.4" font-size="45.30" font-weight="bold" fill="#000" textLength="76.3" lengthAdjust="spacingAndGlyphs">280</text>
<text x="235.7" y="1800.4" font-size="45.30" font-weight="bold" fill="#000" textLength="75.7" lengthAdjust="spacingAndGlyphs">300</text>
<text x="374.3" y="1800.4" font-size="45.30" font-weight="bold" fill="#000" textLength="75.7" lengthAdjust="spacingAndGlyphs">320</text>
<text x="512.9" y="1800.4" font-size="45.30" font-weight="bold" fill="#000" textLength="75.7" lengthAdjust="spacingAndGlyphs">340</text>
<text x="651.5" y="1800.4" font-size="45.30" font-weight="bold" fill="#000" textLength="75.7" lengthAdjust="spacingAndGlyphs">360</text>
<text x="790.1" y="1800.4" font-size="45.30" font-weight="bold" fill="#000" textLength="75.7" lengthAdjust="spacingAndGlyphs">380</text>
<text x="929.0" y="1800.4" font-size="45.30" font-weight="bold" fill="#000" textLength="75.3" lengthAdjust="spacingAndGlyphs">400</text>
<text x="476.2" y="1862.6" font-size="45.82" font-weight="bold" fill="#000" textLength="218.2" lengthAdjust="spacingAndGlyphs">Field (mT)</text>
<text transform="translate(44.6 1165.3) rotate(-90)" font-size="46.69" font-weight="bold" textLength="529.8" lengthAdjust="spacingAndGlyphs">Normalized EPR Intensity</text>
<text x="736.4" y="130.9" font-size="41.75" font-weight="bold" fill="#000" textLength="280.8" lengthAdjust="spacingAndGlyphs">MarHDK + ATP</text>
<text x="709.5" y="182.8" font-size="41.45" font-weight="bold" fill="#000" textLength="307.7" lengthAdjust="spacingAndGlyphs">MarHDK no ATP</text>
<text x="784.5" y="235.3" font-size="41.10" font-weight="bold" fill="#000" textLength="233.8" lengthAdjust="spacingAndGlyphs">Subtraction</text>
<text x="802.0" y="287.4" font-size="41.24" font-weight="bold" fill="#878787" textLength="216.4" lengthAdjust="spacingAndGlyphs">Simulation</text>
<rect x="649.2" y="104.5" width="29.2" height="9.4" fill="#000"/>
<rect x="649.2" y="164" width="8.4" height="8.2" fill="#000"/>
<rect x="667.3" y="164" width="8.7" height="8.2" fill="#000"/>
<text x="148.3" y="341.5" font-size="40.86" font-weight="bold" fill="#2108ee" textLength="133.7" lengthAdjust="spacingAndGlyphs">20 mW</text>
<text x="149.9" y="687.1" font-size="40.43" font-weight="bold" fill="#700ded" textLength="193.0" lengthAdjust="spacingAndGlyphs">6.325 mW</text>
<text x="138.4" y="1013.3" font-size="41.15" font-weight="bold" fill="#f02818" textLength="216.4" lengthAdjust="spacingAndGlyphs">0.6325 mW</text>
<text x="151.3" y="1402.1" font-size="40.43" font-weight="bold" fill="#45c155" textLength="239.8" lengthAdjust="spacingAndGlyphs">0.06325 mW</text>
</g>
<g fill="none" stroke="#000" stroke-width="2">
<rect x="1195" y="85.5" width="968.5" height="741"/>
<line x1="1209.3" y1="65" x2="1209.3" y2="85.5"/>
<line x1="1283.7" y1="65" x2="1283.7" y2="85.5"/>
<line x1="1433.0" y1="65" x2="1433.0" y2="85.5"/>
<line x1="1581.2" y1="65" x2="1581.2" y2="85.5"/>
<line x1="1700.1" y1="65" x2="1700.1" y2="85.5"/>
<line x1="1879.2" y1="65" x2="1879.2" y2="85.5"/>
<line x1="1253.0" y1="826.5" x2="1253.0" y2="845"/>
<line x1="1386.3" y1="826.5" x2="1386.3" y2="845"/>
<line x1="1519.6" y1="826.5" x2="1519.6" y2="845"/>
<line x1="1652.9" y1="826.5" x2="1652.9" y2="845"/>
<line x1="1786.2" y1="826.5" x2="1786.2" y2="845"/>
<line x1="1919.5" y1="826.5" x2="1919.5" y2="845"/>
<line x1="2052.8" y1="826.5" x2="2052.8" y2="845"/>
</g>
<g fill="none" stroke-linejoin="round">
<path d="M1199.4 223.5C1225.9 223.2 1252.4 223.3 1278.9 222.7C1285.2 222.6 1291.4 220.5 1297.7 220.0C1308.5 219.2 1319.2 218.5 1330.0 218.5C1346.2 218.5 1362.3 222.0 1378.5 222.2C1392.3 222.4 1406.2 222.5 1420.0 222.5C1433.1 222.5 1446.1 221.0 1459.2 221.0C1481.7 221.0 1504.1 221.2 1526.6 221.4C1549.0 221.6 1571.5 223.8 1593.9 224.0C1622.6 224.3 1651.3 224.3 1680.0 224.5C1713.3 224.7 1746.7 225.0 1780.0 225.0C1799.2 225.0 1818.4 224.9 1837.6 224.5C1841.1 224.4 1844.7 218.7 1848.2 212.2C1851.0 207.0 1853.9 187.1 1856.7 178.1C1859.6 169.0 1862.4 155.7 1865.3 155.7C1868.2 155.7 1871.1 169.2 1874.0 175.0C1877.1 181.2 1880.3 191.9 1883.4 191.9C1885.9 191.9 1888.5 182.0 1891.0 175.0C1893.8 167.3 1896.6 153.8 1899.4 144.0C1900.5 140.3 1901.5 133.3 1902.6 133.3C1903.9 133.3 1905.2 150.9 1906.5 165.0C1908.0 181.3 1909.5 221.3 1911.0 240.0C1912.8 262.5 1914.6 280.2 1916.4 293.2C1918.3 306.7 1920.1 319.4 1922.0 325.0C1924.8 333.3 1927.5 341.1 1930.3 341.1C1932.5 341.1 1934.8 333.1 1937.0 325.0C1939.4 316.4 1941.7 287.6 1944.1 271.9C1946.2 257.7 1948.4 237.7 1950.5 233.5C1952.6 229.3 1954.8 226.0 1956.9 226.0C2024.4 225.0 2092.0 225.3 2159.5 225.0" stroke="#878787" stroke-width="3.2"/>
<path d="M1199.4 223.5C1225.9 223.2 1252.4 223.3 1278.9 222.7C1285.2 222.6 1291.4 219.5 1297.7 218.7C1308.5 217.4 1319.2 216.0 1330.0 216.0C1346.2 216.0 1362.3 216.8 1378.5 216.8C1384.8 216.8 1391.0 216.0 1397.3 216.0C1400.0 216.0 1402.7 220.0 1405.4 220.0C1413.6 220.0 1421.8 219.7 1430.0 219.5C1439.7 219.3 1449.5 218.7 1459.2 218.7C1472.7 218.7 1486.1 220.3 1499.6 221.4C1513.1 222.5 1526.5 225.4 1540.0 225.4C1558.0 225.4 1575.9 224.9 1593.9 224.6C1622.6 224.2 1651.3 223.6 1680.0 223.2C1713.3 222.7 1746.7 222.7 1780.0 221.8C1790.7 221.5 1801.3 220.4 1812.0 218.6C1819.1 217.4 1826.2 214.4 1833.3 210.0C1837.6 207.3 1841.8 202.5 1846.1 195.1C1848.9 190.2 1851.8 178.9 1854.6 169.5C1856.7 162.4 1858.9 151.0 1861.0 146.1C1862.8 142.0 1864.5 137.1 1866.3 137.1C1868.5 137.1 1870.8 150.2 1873.0 155.0C1876.0 161.3 1878.9 170.6 1881.9 170.6C1884.9 170.6 1888.0 165.3 1891.0 160.0C1893.4 155.7 1895.9 142.8 1898.3 135.4C1899.9 130.4 1901.6 121.6 1903.2 121.6C1904.6 121.6 1906.1 141.7 1907.5 165.3C1908.3 179.0 1909.2 224.4 1910.0 250.5C1910.7 273.5 1911.5 301.4 1912.2 314.5C1912.8 324.6 1913.3 336.9 1913.9 336.9C1915.6 336.9 1917.3 316.6 1919.0 316.6C1921.0 316.6 1923.0 327.7 1925.0 330.0C1928.2 333.6 1931.3 336.9 1934.5 336.9C1937.0 336.9 1939.5 324.4 1942.0 314.5C1944.1 306.1 1946.3 284.6 1948.4 278.3C1952.7 265.8 1956.9 259.7 1961.2 254.8C1968.3 246.6 1975.4 240.9 1982.5 237.7C1993.2 232.9 2003.8 229.5 2014.5 228.2C2035.8 225.7 2057.1 224.2 2078.4 223.9C2105.4 223.5 2132.5 223.5 2159.5 223.3" stroke="#ee2222" stroke-width="3.4"/>
<path d="M1199.4 384.3C1259.1 384.0 1318.8 383.5 1378.5 383.5C1383.9 383.5 1389.2 384.5 1394.6 384.5C1429.7 384.5 1464.9 382.5 1500.0 382.5C1508.9 382.5 1517.7 382.5 1526.6 382.5C1551.1 382.5 1575.5 384.2 1600.0 384.5C1660.0 385.3 1720.0 385.9 1780.0 385.9C1801.3 385.9 1822.6 385.8 1843.9 384.8C1845.9 384.7 1848.0 380.3 1850.0 376.0C1853.0 369.7 1855.9 347.1 1858.9 335.8C1861.0 327.7 1863.2 314.5 1865.3 314.5C1868.5 314.5 1871.8 331.5 1875.0 337.0C1878.2 342.4 1881.3 349.7 1884.5 349.7C1887.3 349.7 1890.2 332.6 1893.0 322.0C1895.7 311.9 1898.4 286.8 1901.1 286.8C1902.7 286.8 1904.4 298.0 1906.0 310.0C1907.3 319.8 1908.7 350.7 1910.0 370.0C1911.7 394.2 1913.3 426.2 1915.0 440.0C1917.7 462.1 1920.3 476.4 1923.0 485.0C1925.5 493.2 1928.1 502.4 1930.6 502.4C1932.1 502.4 1933.5 488.2 1935.0 480.0C1936.6 471.0 1938.2 460.3 1939.8 449.9C1942.1 435.2 1944.3 411.0 1946.6 404.2C1949.7 395.0 1952.7 387.8 1955.8 387.1C1958.9 386.4 1961.9 386.0 1965.0 386.0C2029.6 385.9 2094.3 385.9 2158.9 385.9" stroke="#878787" stroke-width="3.2"/>
<path d="M1199.4 384.3C1225.9 384.1 1252.4 384.1 1278.9 383.8C1294.1 383.6 1309.4 379.2 1324.6 378.9C1342.6 378.5 1360.5 378.7 1378.5 378.3C1383.9 378.2 1389.2 376.2 1394.6 376.2C1398.2 376.2 1401.8 384.3 1405.4 384.3C1436.9 384.3 1468.5 383.5 1500.0 383.5C1560.0 383.5 1620.0 384.3 1680.0 384.3C1713.3 384.3 1746.7 383.6 1780.0 382.3C1790.7 381.9 1801.3 380.5 1812.0 378.4C1819.1 377.0 1826.2 374.3 1833.3 369.9C1837.6 367.3 1841.8 362.4 1846.1 355.0C1848.9 350.1 1851.8 339.2 1854.6 329.4C1856.7 322.0 1858.9 310.2 1861.0 303.8C1862.8 298.5 1864.5 291.0 1866.3 291.0C1868.7 291.0 1871.1 305.2 1873.5 310.0C1875.7 314.5 1878.0 320.9 1880.2 320.9C1882.1 320.9 1884.1 312.5 1886.0 305.0C1887.4 299.6 1888.8 279.3 1890.2 279.3C1891.8 279.3 1893.5 327.3 1895.1 327.3C1896.4 327.3 1897.7 322.1 1899.0 318.0C1900.4 313.6 1901.8 298.5 1903.2 298.5C1904.3 298.5 1905.4 315.7 1906.5 330.0C1907.3 340.8 1908.2 362.1 1909.0 378.4C1909.7 392.1 1910.4 400.9 1911.1 420.0C1911.5 431.9 1912.0 465.8 1912.4 472.7C1913.0 482.3 1913.6 489.8 1914.2 489.8C1915.7 489.8 1917.1 471.6 1918.6 471.6C1920.1 471.6 1921.5 487.4 1923.0 490.0C1925.5 494.4 1928.1 497.8 1930.6 497.8C1932.7 497.8 1934.9 491.4 1937.0 485.0C1938.7 479.9 1940.4 462.4 1942.1 456.7C1945.1 446.6 1948.2 441.5 1951.2 436.2C1955.0 429.6 1958.8 423.9 1962.6 420.2C1970.2 412.8 1977.8 407.7 1985.4 404.2C1996.8 398.9 2008.3 394.8 2019.7 392.8C2038.7 389.5 2057.7 387.1 2076.7 386.4C2104.1 385.5 2131.5 385.3 2158.9 384.8" stroke="#3aaa2e" stroke-width="3.4"/>
<path d="M1200.8 551.5C1226.8 551.0 1252.9 551.2 1278.9 550.0C1285.2 549.7 1291.4 542.4 1297.7 541.2C1310.3 538.8 1322.8 537.1 1335.4 537.1C1342.6 537.1 1349.8 539.4 1357.0 541.0C1366.0 543.0 1374.9 548.1 1383.9 548.7C1395.6 549.5 1407.2 550.0 1418.9 550.0C1454.8 550.0 1490.7 545.2 1526.6 545.2C1551.1 545.2 1575.5 546.7 1600.0 548.0C1615.9 548.8 1631.8 551.4 1647.7 551.9C1658.5 552.2 1669.2 552.5 1680.0 552.5C1713.3 552.6 1746.7 552.6 1780.0 552.6C1798.3 552.6 1816.7 552.6 1835.0 552.6C1837.7 552.6 1840.3 550.7 1843.0 548.0C1844.8 546.1 1846.7 536.0 1848.5 529.8C1851.5 519.5 1854.6 504.4 1857.6 497.8C1860.5 491.5 1863.4 484.1 1866.3 484.1C1869.5 484.1 1872.8 493.7 1876.0 497.0C1879.2 500.2 1882.3 504.7 1885.5 504.7C1888.0 504.7 1890.5 495.2 1893.0 485.0C1894.9 477.3 1896.8 453.9 1898.7 438.5C1899.8 429.3 1901.0 411.1 1902.1 411.1C1903.2 411.1 1904.4 449.5 1905.5 480.0C1906.7 511.4 1907.8 590.4 1909.0 621.0C1910.1 650.7 1911.3 687.3 1912.4 687.3C1913.9 687.3 1915.5 663.6 1917.0 652.0C1918.9 637.7 1920.8 614.5 1922.7 609.7C1925.3 603.1 1928.0 598.3 1930.6 598.3C1933.7 598.3 1936.9 606.5 1940.0 611.0C1943.0 615.2 1945.9 624.5 1948.9 624.5C1951.9 624.5 1955.0 606.3 1958.0 598.0C1961.8 587.5 1965.7 573.7 1969.5 568.6C1973.3 563.5 1977.1 559.2 1980.9 558.3C1989.9 556.1 1999.0 555.4 2008.0 555.0C2058.3 552.7 2108.6 552.7 2158.9 551.5" stroke="#878787" stroke-width="3.2"/>
<path d="M1200.8 550.6C1226.8 550.0 1252.9 550.2 1278.9 548.7C1284.3 548.4 1289.6 539.6 1295.0 538.5C1304.9 536.5 1314.7 535.7 1324.6 535.2C1333.6 534.8 1342.5 534.4 1351.5 534.4C1360.5 534.4 1369.5 535.2 1378.5 535.2C1381.2 535.2 1383.9 533.3 1386.6 531.7C1389.0 530.3 1391.4 525.0 1393.8 525.0C1395.7 525.0 1397.6 528.8 1399.5 532.0C1401.0 534.6 1402.5 540.3 1404.0 543.9C1405.8 548.3 1407.6 556.0 1409.4 556.0C1412.6 556.0 1415.7 550.2 1418.9 549.2C1423.4 547.7 1427.8 546.6 1432.3 546.5C1450.3 546.1 1468.2 546.0 1486.2 546.0C1513.1 546.0 1540.1 547.4 1567.0 547.9C1604.7 548.6 1642.3 549.5 1680.0 549.8C1713.3 550.1 1746.7 550.3 1780.0 550.3C1797.5 550.3 1815.0 549.2 1832.5 546.9C1835.5 546.5 1838.6 545.5 1841.6 543.5C1843.9 542.0 1846.2 534.1 1848.5 527.5C1850.8 521.0 1853.0 510.7 1855.3 502.4C1857.2 495.5 1859.1 484.8 1861.0 481.8C1862.9 478.8 1864.8 476.1 1866.7 476.1C1868.8 476.1 1870.9 476.5 1873.0 477.0C1875.1 477.5 1877.2 481.4 1879.3 481.4C1882.0 481.4 1884.6 476.7 1887.3 472.7C1889.6 469.3 1891.8 464.1 1894.1 456.7C1895.6 451.7 1897.2 443.7 1898.7 433.9C1899.8 426.6 1901.0 413.3 1902.1 404.2C1902.5 401.0 1902.9 395.1 1903.3 395.1C1903.9 395.1 1904.5 416.7 1905.1 438.5C1905.6 457.9 1906.2 529.6 1906.7 552.6C1907.5 585.6 1908.2 608.6 1909.0 621.1C1910.0 636.9 1910.9 653.0 1911.9 653.0C1913.6 653.0 1915.3 638.7 1917.0 632.5C1919.3 624.2 1921.5 613.6 1923.8 609.7C1926.5 605.1 1929.1 600.5 1931.8 600.5C1934.5 600.5 1937.3 607.7 1940.0 612.0C1943.3 617.3 1946.7 630.2 1950.0 630.2C1952.7 630.2 1955.3 616.6 1958.0 609.7C1961.8 599.8 1965.7 585.7 1969.5 580.0C1974.8 572.1 1980.1 566.8 1985.4 564.0C1993.0 559.9 2000.7 557.3 2008.3 556.0C2023.5 553.5 2038.7 551.8 2053.9 551.5C2088.9 550.7 2123.9 550.7 2158.9 550.3" stroke="#7a0f40" stroke-width="3.4"/>
<path d="M1200.8 745.0C1226.8 744.3 1252.9 744.2 1278.9 743.0C1297.7 742.1 1316.6 733.7 1335.4 733.7C1343.6 733.7 1351.8 735.7 1360.0 737.0C1369.7 738.5 1379.5 742.3 1389.2 742.3C1401.8 742.3 1414.3 742.0 1426.9 742.0C1473.6 742.0 1520.3 742.0 1567.0 742.0C1604.7 742.0 1642.3 742.9 1680.0 743.5C1713.3 744.0 1746.7 745.5 1780.0 745.5C1798.3 745.5 1816.5 745.5 1834.8 745.5C1838.5 745.5 1842.3 743.0 1846.0 740.0C1849.1 737.5 1852.2 725.8 1855.3 721.5C1859.0 716.5 1862.6 710.1 1866.3 710.1C1869.5 710.1 1872.8 715.2 1876.0 718.0C1879.4 720.9 1882.7 727.2 1886.1 727.2C1889.1 727.2 1892.0 721.0 1895.0 715.0C1897.0 711.0 1899.0 703.2 1901.0 694.1C1901.8 690.6 1902.5 680.4 1903.3 680.4C1904.4 680.4 1905.4 697.8 1906.5 710.0C1908.0 727.2 1909.5 768.6 1911.0 780.0C1912.8 794.0 1914.7 807.1 1916.5 807.1C1918.0 807.1 1919.5 795.2 1921.0 790.0C1922.7 784.1 1924.4 775.7 1926.1 774.0C1928.0 772.1 1929.9 770.6 1931.8 770.6C1934.5 770.6 1937.3 774.2 1940.0 776.0C1943.0 778.0 1945.9 782.0 1948.9 782.0C1952.6 782.0 1956.3 769.7 1960.0 765.0C1963.9 760.0 1967.8 754.7 1971.7 752.3C1976.1 749.5 1980.6 746.6 1985.0 746.5C2043.0 745.6 2100.9 745.8 2158.9 745.5" stroke="#878787" stroke-width="3.2"/>
<path d="M1200.8 745.0C1226.8 744.8 1252.9 744.9 1278.9 744.5C1285.2 744.4 1291.4 741.8 1297.7 740.4C1306.7 738.4 1315.6 735.6 1324.6 734.5C1333.6 733.4 1342.5 733.2 1351.5 732.3C1360.5 731.4 1369.5 731.1 1378.5 729.1C1382.1 728.3 1385.6 725.4 1389.2 721.6C1390.7 720.0 1392.3 713.5 1393.8 713.5C1395.0 713.5 1396.1 718.0 1397.3 718.0C1398.5 718.0 1399.6 714.8 1400.8 714.8C1401.9 714.8 1402.9 730.8 1404.0 737.7C1405.2 745.4 1406.4 758.7 1407.6 758.7C1409.6 758.7 1411.5 748.5 1413.5 747.1C1418.0 743.8 1422.4 741.7 1426.9 741.7C1446.7 741.7 1466.4 741.7 1486.2 741.7C1513.1 741.7 1540.1 744.0 1567.0 744.4C1604.7 744.9 1642.3 745.3 1680.0 745.3C1713.3 745.3 1746.7 744.8 1780.0 744.3C1798.3 744.0 1816.5 744.0 1834.8 742.5C1837.8 742.3 1840.9 738.7 1843.9 735.2C1846.9 731.7 1850.0 722.8 1853.0 717.0C1855.3 712.6 1857.6 705.8 1859.9 704.4C1862.0 703.1 1864.2 702.1 1866.3 702.1C1868.5 702.1 1870.8 705.6 1873.0 707.0C1875.5 708.6 1877.9 711.2 1880.4 711.2C1884.2 711.2 1888.0 708.6 1891.8 705.5C1894.1 703.7 1896.4 699.8 1898.7 694.1C1900.4 689.8 1902.2 670.2 1903.9 670.2C1904.8 670.2 1905.6 680.7 1906.5 690.0C1907.3 699.0 1908.2 723.4 1909.0 735.2C1910.1 751.2 1911.3 773.3 1912.4 774.0C1915.4 775.8 1918.5 775.3 1921.5 776.3C1926.1 777.8 1930.6 780.9 1935.2 783.1C1940.1 785.5 1945.1 790.0 1950.0 790.0C1954.2 790.0 1958.4 782.6 1962.6 778.6C1967.9 773.5 1973.3 766.2 1978.6 762.6C1984.7 758.5 1990.7 755.1 1996.8 753.5C2008.2 750.5 2019.7 748.3 2031.1 747.8C2073.7 745.8 2116.3 745.8 2158.9 744.8" stroke="#700ded" stroke-width="3.4"/>
</g>
<g font-family="'Liberation Sans', Arial, sans-serif">
<text x="1104.2" y="65.3" font-size="49.75" font-weight="bold" fill="#000" textLength="33.6" lengthAdjust="spacingAndGlyphs">B</text>
<text x="1196.0" y="46.5" font-size="48.46" font-weight="bold" fill="#000" textLength="26.5" lengthAdjust="spacingAndGlyphs">8</text>
<text x="1270.1" y="46.5" font-size="48.46" font-weight="bold" fill="#000" textLength="27.1" lengthAdjust="spacingAndGlyphs">6</text>
<text x="1420.6" y="46.5" font-size="49.16" font-weight="bold" fill="#000" textLength="24.4" lengthAdjust="spacingAndGlyphs">4</text>
<text x="1548.1" y="46.5" font-size="48.46" font-weight="bold" fill="#000" textLength="67.0" lengthAdjust="spacingAndGlyphs">3.0</text>
<text x="1666.4" y="46.5" font-size="48.46" font-weight="bold" fill="#000" textLength="67.0" lengthAdjust="spacingAndGlyphs">2.5</text>
<text x="1845.5" y="46.5" font-size="48.46" font-weight="bold" fill="#000" textLength="67.7" lengthAdjust="spacingAndGlyphs">2.0</text>
<text x="1994.6" y="44.9" font-size="46.21" font-weight="bold" fill="#000" textLength="169.4" lengthAdjust="spacingAndGlyphs">g-value</text>
<text x="1212.1" y="899.5" font-size="48.32" font-weight="bold" fill="#000" textLength="80.8" lengthAdjust="spacingAndGlyphs">100</text>
<text x="1345.4" y="899.5" font-size="48.32" font-weight="bold" fill="#000" textLength="80.8" lengthAdjust="spacingAndGlyphs">150</text>
<text x="1480.0" y="899.5" font-size="48.32" font-weight="bold" fill="#000" textLength="79.4" lengthAdjust="spacingAndGlyphs">200</text>
<text x="1613.3" y="899.5" font-size="48.32" font-weight="bold" fill="#000" textLength="79.4" lengthAdjust="spacingAndGlyphs">250</text>
<text x="1747.2" y="899.5" font-size="48.32" font-weight="bold" fill="#000" textLength="78.8" lengthAdjust="spacingAndGlyphs">300</text>
<text x="1880.5" y="899.5" font-size="48.32" font-weight="bold" fill="#000" textLength="78.8" lengthAdjust="spacingAndGlyphs">350</text>
<text x="2014.2" y="899.5" font-size="48.32" font-weight="bold" fill="#000" textLength="78.4" lengthAdjust="spacingAndGlyphs">400</text>
<text x="1563.6" y="962.9" font-size="47.85" font-weight="bold" fill="#000" textLength="231.7" lengthAdjust="spacingAndGlyphs">Field (mT)</text>
<text transform="translate(1103.5 607.0) rotate(-90)" font-size="48.58" font-weight="bold" textLength="301.9" lengthAdjust="spacingAndGlyphs">EPR Intensity</text>
<text x="1219.6" y="142.5" font-size="41.89" font-weight="bold" fill="#000" textLength="308.9" lengthAdjust="spacingAndGlyphs">MarHDK no ATP</text>
<text x="1220.5" y="194.4" font-size="41.24" font-weight="bold" fill="#878787" textLength="216.6" lengthAdjust="spacingAndGlyphs">Simulation</text>
<text x="1219.6" y="345.2" font-size="41.16" font-weight="bold" fill="#000" textLength="282.0" lengthAdjust="spacingAndGlyphs">MarHDK + ATP</text>
<text x="1219.5" y="483.8" font-size="41.89" font-weight="bold" fill="#000" textLength="251.3" lengthAdjust="spacingAndGlyphs">MarH no ATP</text>
<text x="1214.2" y="666.4" font-size="41.16" font-weight="bold" fill="#000" textLength="224.4" lengthAdjust="spacingAndGlyphs">MarH + ATP</text>
<text x="1401.8" y="722.3" font-size="50.00" font-weight="normal" fill="#000" textLength="20.7" lengthAdjust="spacingAndGlyphs">*</text>
</g>
<g fill="none" stroke="#000" stroke-width="2">
<rect x="1191.2" y="986" width="969.3" height="741"/>
<line x1="1249.0" y1="1727" x2="1249.0" y2="1745"/>
<line x1="1382.3" y1="1727" x2="1382.3" y2="1745"/>
<line x1="1515.6" y1="1727" x2="1515.6" y2="1745"/>
<line x1="1648.9" y1="1727" x2="1648.9" y2="1745"/>
<line x1="1782.2" y1="1727" x2="1782.2" y2="1745"/>
<line x1="1915.5" y1="1727" x2="1915.5" y2="1745"/>
<line x1="2048.8" y1="1727" x2="2048.8" y2="1745"/>
</g>
<g fill="none" stroke-linejoin="round">
<path d="M1196.7 1118.3C1221.4 1118.4 1246.1 1118.5 1270.8 1118.5C1274.4 1118.5 1277.9 1112.1 1281.5 1110.0C1284.3 1108.3 1287.2 1106.0 1290.0 1106.0C1292.6 1106.0 1295.1 1107.4 1297.7 1107.5C1315.6 1108.3 1333.6 1108.5 1351.5 1108.5C1360.3 1108.5 1369.2 1108.5 1378.0 1108.5C1382.2 1108.5 1386.4 1106.0 1390.6 1106.0C1392.7 1106.0 1394.9 1109.0 1397.0 1111.0C1399.3 1113.2 1401.7 1119.0 1404.0 1119.0C1407.2 1119.0 1410.3 1117.5 1413.5 1117.5C1428.7 1117.5 1444.0 1117.5 1459.2 1117.5C1477.2 1117.5 1495.1 1119.2 1513.1 1120.0C1540.0 1121.2 1567.0 1123.5 1593.9 1123.5C1622.6 1123.5 1651.3 1123.3 1680.0 1123.0C1713.3 1122.7 1746.7 1120.8 1780.0 1118.0C1790.7 1117.1 1801.3 1115.2 1812.0 1112.9C1819.1 1111.4 1826.2 1109.5 1833.3 1106.5C1836.9 1105.0 1840.4 1103.2 1844.0 1100.0C1846.8 1097.5 1849.7 1090.5 1852.5 1087.0C1855.3 1083.5 1858.2 1079.1 1861.0 1078.0C1863.8 1076.9 1866.7 1076.9 1869.5 1076.0C1873.1 1074.8 1876.6 1072.8 1880.2 1070.0C1882.5 1068.2 1884.7 1062.7 1887.0 1062.0C1889.0 1061.4 1891.0 1061.2 1893.0 1061.0C1894.8 1060.9 1896.5 1060.7 1898.3 1060.7C1899.5 1060.7 1900.8 1065.8 1902.0 1072.0C1903.0 1077.0 1904.0 1097.4 1905.0 1110.0C1906.3 1126.8 1907.7 1148.5 1909.0 1160.0C1910.4 1172.1 1911.8 1187.5 1913.2 1187.5C1915.5 1187.5 1917.7 1180.9 1920.0 1178.0C1921.7 1175.9 1923.3 1172.8 1925.0 1172.0C1930.0 1169.6 1934.9 1169.3 1939.9 1168.0C1944.9 1166.7 1949.8 1165.8 1954.8 1164.0C1960.5 1162.0 1966.2 1157.8 1971.9 1155.0C1979.0 1151.5 1986.1 1147.7 1993.2 1145.0C2003.9 1140.9 2014.5 1137.5 2025.2 1135.0C2035.8 1132.5 2046.5 1130.0 2057.1 1128.9C2071.3 1127.4 2085.6 1126.5 2099.8 1126.0C2118.3 1125.3 2136.7 1125.1 2155.2 1124.6" stroke="#2108ee" stroke-width="3.4" stroke-dasharray="3.4 4.0"/>
<path d="M1196.7 1118.3C1221.4 1118.6 1246.1 1119.1 1270.8 1119.1C1274.4 1119.1 1277.9 1115.2 1281.5 1114.2C1286.9 1112.7 1292.3 1111.3 1297.7 1111.0C1315.6 1109.9 1333.6 1109.7 1351.5 1109.4C1360.3 1109.2 1369.2 1109.3 1378.0 1109.0C1382.2 1108.9 1386.4 1106.2 1390.6 1106.2C1392.7 1106.2 1394.9 1109.0 1397.0 1111.0C1399.3 1113.2 1401.7 1120.2 1404.0 1120.2C1407.2 1120.2 1410.3 1117.7 1413.5 1117.7C1428.7 1117.5 1444.0 1117.5 1459.2 1117.5C1477.2 1117.5 1495.1 1119.2 1513.1 1119.6C1540.0 1120.3 1567.0 1121.0 1593.9 1121.0C1622.6 1121.0 1651.3 1121.0 1680.0 1121.0C1713.3 1121.0 1746.7 1119.9 1780.0 1118.0C1790.7 1117.4 1801.3 1115.2 1812.0 1112.9C1819.1 1111.4 1826.2 1109.4 1833.3 1106.5C1836.9 1105.0 1840.4 1103.2 1844.0 1100.1C1846.8 1097.6 1849.7 1091.0 1852.5 1087.3C1855.3 1083.6 1858.2 1078.8 1861.0 1077.7C1863.8 1076.6 1866.7 1076.6 1869.5 1075.6C1873.1 1074.4 1876.6 1072.9 1880.2 1069.2C1882.5 1066.8 1884.7 1049.0 1887.0 1049.0C1888.3 1049.0 1889.5 1069.6 1890.8 1070.3C1893.3 1071.8 1895.8 1071.0 1898.3 1072.4C1900.1 1073.4 1901.8 1082.9 1903.6 1091.6C1905.0 1098.7 1906.5 1112.0 1907.9 1123.6C1909.3 1135.2 1910.8 1158.4 1912.2 1161.9C1913.6 1165.3 1915.0 1167.9 1916.4 1167.9C1919.3 1167.9 1922.1 1166.2 1925.0 1166.2C1930.0 1166.2 1934.9 1168.8 1939.9 1168.8C1944.9 1168.8 1949.8 1168.1 1954.8 1167.3C1960.5 1166.4 1966.2 1162.5 1971.9 1159.8C1979.0 1156.5 1986.1 1152.0 1993.2 1149.1C2003.9 1144.8 2014.5 1140.9 2025.2 1138.5C2035.8 1136.1 2046.5 1134.1 2057.1 1133.2C2071.3 1132.1 2085.6 1131.2 2099.8 1131.0C2118.3 1130.8 2136.7 1130.7 2155.2 1130.6" stroke="#2108ee" stroke-width="3.4"/>
<path d="M1196.7 1243.0C1221.4 1242.7 1246.1 1242.8 1270.8 1242.0C1275.3 1241.9 1279.7 1236.5 1284.2 1236.0C1297.7 1234.6 1311.1 1234.3 1324.6 1234.0C1346.1 1233.5 1367.7 1233.0 1389.2 1233.0C1393.7 1233.0 1398.2 1240.0 1402.7 1240.0C1421.5 1240.0 1440.4 1240.0 1459.2 1240.0C1486.1 1240.0 1513.1 1242.3 1540.0 1243.0C1586.7 1244.2 1633.3 1244.6 1680.0 1245.5C1713.3 1246.1 1746.7 1247.5 1780.0 1247.5C1790.7 1247.5 1801.3 1245.3 1812.0 1243.0C1819.1 1241.5 1826.2 1239.6 1833.3 1235.0C1836.9 1232.7 1840.4 1225.9 1844.0 1218.0C1846.8 1211.7 1849.7 1197.4 1852.5 1188.0C1854.6 1180.9 1856.8 1171.3 1858.9 1168.0C1860.5 1165.6 1862.0 1163.0 1863.6 1163.0C1865.7 1163.0 1867.9 1173.3 1870.0 1178.0C1872.3 1183.2 1874.7 1192.8 1877.0 1192.8C1879.3 1192.8 1881.7 1187.7 1884.0 1185.0C1886.0 1182.7 1888.0 1181.9 1890.0 1178.0C1891.3 1175.4 1892.7 1165.3 1894.0 1160.0C1895.4 1154.3 1896.9 1144.9 1898.3 1144.9C1899.5 1144.9 1900.8 1160.2 1902.0 1175.0C1903.3 1190.2 1904.5 1228.4 1905.8 1262.0C1906.5 1280.6 1907.2 1313.0 1907.9 1326.0C1908.6 1339.0 1909.3 1354.0 1910.0 1354.0C1911.6 1354.0 1913.1 1338.0 1914.7 1338.0C1916.3 1338.0 1918.0 1355.1 1919.6 1357.0C1922.5 1360.4 1925.3 1362.5 1928.2 1362.5C1930.5 1362.5 1932.7 1358.6 1935.0 1352.0C1936.0 1349.1 1937.0 1332.7 1938.0 1325.0C1939.2 1316.0 1940.3 1305.3 1941.5 1301.5C1944.1 1293.1 1946.6 1290.2 1949.2 1286.2C1952.3 1281.4 1955.4 1278.0 1958.5 1274.6C1961.1 1271.8 1963.6 1269.0 1966.2 1267.0C1970.3 1263.8 1974.4 1260.9 1978.5 1259.2C1983.6 1257.1 1988.7 1255.6 1993.8 1254.6C2001.0 1253.2 2008.2 1251.8 2015.4 1251.5C2023.6 1251.1 2031.8 1251.0 2040.0 1250.8C2078.4 1249.8 2116.8 1249.1 2155.2 1248.3" stroke="#ee2222" stroke-width="3.4" stroke-dasharray="3.4 4.0"/>
<path d="M1196.7 1243.0C1221.4 1243.0 1246.1 1243.0 1270.8 1243.0C1275.3 1243.0 1279.7 1240.5 1284.2 1240.2C1297.7 1239.2 1311.1 1238.9 1324.6 1238.6C1346.1 1238.1 1367.7 1237.6 1389.2 1237.6C1393.7 1237.6 1398.2 1244.8 1402.7 1244.8C1421.5 1244.8 1440.4 1244.0 1459.2 1244.0C1486.1 1244.0 1513.1 1245.7 1540.0 1246.2C1586.7 1247.1 1633.3 1248.3 1680.0 1248.3C1713.3 1248.3 1746.7 1248.3 1780.0 1248.3C1790.7 1248.3 1801.3 1246.1 1812.0 1244.0C1819.1 1242.6 1826.2 1240.9 1833.3 1236.5C1836.9 1234.3 1840.4 1227.6 1844.0 1219.5C1846.8 1213.1 1849.7 1197.5 1852.5 1187.5C1854.6 1180.0 1856.8 1170.7 1858.9 1166.2C1860.5 1162.9 1862.0 1158.7 1863.6 1158.7C1865.7 1158.7 1867.9 1167.6 1870.0 1172.0C1872.3 1176.8 1874.7 1186.4 1877.0 1186.4C1878.7 1186.4 1880.3 1180.7 1882.0 1175.0C1883.4 1170.2 1884.8 1148.1 1886.2 1148.1C1887.1 1148.1 1888.1 1167.5 1889.0 1175.0C1890.0 1182.8 1890.9 1195.0 1891.9 1195.0C1893.3 1195.0 1894.6 1184.6 1896.0 1180.0C1897.5 1175.0 1898.9 1166.2 1900.4 1166.2C1901.4 1166.2 1902.5 1183.6 1903.5 1200.0C1904.3 1212.2 1905.0 1240.1 1905.8 1262.1C1906.5 1282.2 1907.2 1313.9 1907.9 1326.1C1908.6 1338.3 1909.3 1351.7 1910.0 1351.7C1911.6 1351.7 1913.1 1334.6 1914.7 1334.6C1916.3 1334.6 1918.0 1352.8 1919.6 1355.0C1922.5 1358.8 1925.3 1361.3 1928.2 1361.3C1930.9 1361.3 1933.5 1351.4 1936.2 1340.0C1937.2 1335.7 1938.2 1320.5 1939.2 1317.0C1941.8 1308.1 1944.3 1306.0 1946.9 1301.5C1950.2 1295.7 1953.6 1290.1 1956.9 1286.2C1961.0 1281.4 1965.1 1277.3 1969.2 1274.6C1974.3 1271.2 1979.5 1269.0 1984.6 1267.0C1991.0 1264.5 1997.4 1262.4 2003.8 1260.8C2010.2 1259.2 2016.7 1257.3 2023.1 1257.0C2028.7 1256.7 2034.4 1256.6 2040.0 1256.5C2078.4 1256.0 2116.8 1256.0 2155.2 1255.7" stroke="#ee2222" stroke-width="3.4"/>
<path d="M1196.7 1458.1C1223.2 1457.2 1249.7 1457.9 1276.2 1455.4C1278.0 1455.2 1279.7 1438.8 1281.5 1436.5C1285.6 1431.3 1289.6 1427.9 1293.7 1427.9C1299.1 1427.9 1304.6 1430.9 1310.0 1432.0C1319.4 1433.9 1328.7 1435.1 1338.1 1436.5C1348.0 1438.0 1357.8 1440.6 1367.7 1440.6C1371.8 1440.6 1375.9 1436.3 1380.0 1432.0C1383.1 1428.8 1386.1 1415.0 1389.2 1415.0C1390.8 1415.0 1392.4 1417.2 1394.0 1420.0C1395.3 1422.3 1396.7 1433.0 1398.0 1440.0C1400.5 1452.9 1402.9 1481.0 1405.4 1481.0C1408.9 1481.0 1412.5 1472.4 1416.0 1470.0C1421.4 1466.3 1426.9 1462.4 1432.3 1462.1C1450.3 1461.1 1468.2 1460.8 1486.2 1460.8C1550.8 1460.8 1615.4 1463.0 1680.0 1463.0C1713.3 1463.0 1746.7 1462.9 1780.0 1462.5C1790.7 1462.4 1801.3 1461.1 1812.0 1460.0C1819.1 1459.3 1826.2 1458.8 1833.3 1457.0C1837.5 1455.9 1841.8 1451.1 1846.0 1447.0C1850.0 1443.1 1854.0 1437.0 1858.0 1432.0C1861.8 1427.2 1865.7 1423.5 1869.5 1417.6C1873.1 1412.1 1876.6 1405.8 1880.2 1396.2C1883.0 1388.5 1885.9 1369.1 1888.7 1362.1C1891.2 1355.9 1893.7 1348.5 1896.2 1348.5C1898.0 1348.5 1899.7 1352.6 1901.5 1360.0C1902.6 1364.5 1903.6 1402.3 1904.7 1424.0C1905.8 1445.7 1906.8 1490.0 1907.9 1490.0C1910.3 1490.0 1912.6 1489.4 1915.0 1489.0C1919.7 1488.1 1924.5 1484.7 1929.2 1484.7C1933.5 1484.7 1937.7 1489.2 1942.0 1492.0C1947.7 1495.8 1953.4 1506.0 1959.1 1506.0C1964.4 1506.0 1969.7 1499.0 1975.0 1496.0C1984.6 1490.6 1994.2 1485.2 2003.8 1481.5C2018.0 1476.1 2032.3 1470.7 2046.5 1468.7C2064.3 1466.2 2082.2 1464.9 2100.0 1464.0C2118.4 1463.0 2136.8 1462.6 2155.2 1461.9" stroke="#4996d2" stroke-width="3.4" stroke-dasharray="3.4 4.0"/>
<path d="M1196.7 1458.1C1223.2 1458.1 1249.7 1458.1 1276.2 1458.1C1279.8 1458.1 1283.3 1455.8 1286.9 1454.0C1292.3 1451.2 1297.7 1444.2 1303.1 1440.6C1310.3 1435.8 1317.4 1431.3 1324.6 1428.5C1330.0 1426.4 1335.4 1424.6 1340.8 1423.6C1351.6 1421.7 1362.3 1422.4 1373.1 1419.8C1376.7 1418.9 1380.3 1415.2 1383.9 1409.6C1386.1 1406.1 1388.4 1385.4 1390.6 1385.4C1391.7 1385.4 1392.7 1396.0 1393.8 1396.0C1394.8 1396.0 1395.8 1392.1 1396.8 1392.1C1397.9 1392.1 1398.9 1408.4 1400.0 1420.4C1401.3 1435.4 1402.7 1483.7 1404.0 1483.7C1406.3 1483.7 1408.5 1467.3 1410.8 1463.5C1414.4 1457.4 1418.0 1452.5 1421.6 1451.4C1427.0 1449.8 1432.3 1448.7 1437.7 1448.7C1449.4 1448.7 1461.0 1451.4 1472.7 1452.7C1490.7 1454.6 1508.6 1456.9 1526.6 1458.1C1549.0 1459.6 1571.5 1460.4 1593.9 1461.3C1622.6 1462.4 1651.3 1464.0 1680.0 1464.0C1713.3 1464.0 1746.7 1463.8 1780.0 1463.4C1790.7 1463.3 1801.3 1461.5 1812.0 1460.2C1819.1 1459.3 1826.2 1458.9 1833.3 1457.0C1836.9 1456.0 1840.4 1452.2 1844.0 1449.5C1848.2 1446.3 1852.5 1443.1 1856.7 1438.9C1860.3 1435.4 1863.8 1428.7 1867.4 1426.1C1869.3 1424.7 1871.1 1423.0 1873.0 1423.0C1874.3 1423.0 1875.7 1426.5 1877.0 1426.5C1880.2 1426.5 1883.4 1420.7 1886.6 1417.6C1891.2 1413.2 1895.8 1403.7 1900.4 1403.7C1902.2 1403.7 1904.0 1416.9 1905.8 1419.7C1908.6 1424.1 1911.5 1425.0 1914.3 1428.2C1918.6 1433.0 1922.8 1438.3 1927.1 1445.3C1931.4 1452.3 1935.6 1464.1 1939.9 1473.0C1943.4 1480.4 1947.0 1490.8 1950.5 1494.3C1954.8 1498.5 1959.0 1502.4 1963.3 1502.4C1967.2 1502.4 1971.1 1501.7 1975.0 1501.0C1981.1 1499.9 1987.1 1495.6 1993.2 1493.2C2003.9 1489.0 2014.5 1484.3 2025.2 1481.5C2035.8 1478.7 2046.5 1476.5 2057.1 1475.1C2071.3 1473.2 2085.6 1471.8 2099.8 1470.9C2118.3 1469.7 2136.7 1469.2 2155.2 1468.3" stroke="#4996d2" stroke-width="3.4"/>
<path d="M1196.7 1613.7C1223.2 1613.1 1249.7 1613.5 1276.2 1612.0C1278.0 1611.9 1279.7 1608.8 1281.5 1608.0C1286.9 1605.6 1292.3 1604.6 1297.7 1603.5C1306.7 1601.7 1315.6 1599.5 1324.6 1599.5C1340.8 1599.4 1356.9 1599.5 1373.1 1599.4C1376.7 1599.4 1380.4 1596.4 1384.0 1594.0C1386.2 1592.6 1388.4 1588.0 1390.6 1588.0C1392.7 1588.0 1394.7 1588.7 1396.8 1590.0C1397.9 1590.7 1398.9 1597.3 1400.0 1602.0C1401.3 1607.9 1402.7 1624.0 1404.0 1624.0C1407.2 1624.0 1410.3 1616.3 1413.5 1615.0C1418.0 1613.1 1422.4 1611.6 1426.9 1611.5C1446.7 1611.1 1466.4 1611.0 1486.2 1611.0C1522.1 1611.0 1558.0 1612.4 1593.9 1613.0C1622.6 1613.5 1651.3 1613.9 1680.0 1614.5C1713.3 1615.2 1746.7 1617.0 1780.0 1617.0C1790.7 1617.0 1801.3 1615.9 1812.0 1614.8C1819.8 1614.0 1827.6 1613.6 1835.4 1611.0C1838.3 1610.1 1841.1 1604.7 1844.0 1599.0C1846.8 1593.3 1849.7 1578.0 1852.5 1568.9C1855.3 1559.8 1858.2 1543.8 1861.0 1543.8C1864.0 1543.8 1867.0 1544.4 1870.0 1545.0C1872.7 1545.5 1875.4 1547.6 1878.1 1547.6C1880.7 1547.6 1883.4 1540.9 1886.0 1535.0C1888.3 1529.8 1890.7 1519.7 1893.0 1509.2C1894.8 1501.3 1896.5 1489.8 1898.3 1479.4C1899.0 1475.3 1899.7 1466.6 1900.4 1466.6C1901.1 1466.6 1901.8 1482.8 1902.5 1500.0C1903.2 1518.0 1904.0 1591.5 1904.7 1620.0C1905.8 1661.5 1906.8 1713.9 1907.9 1713.9C1909.6 1713.9 1911.3 1700.9 1913.0 1695.0C1915.3 1686.8 1917.7 1675.0 1920.0 1672.0C1923.1 1668.0 1926.1 1664.8 1929.2 1664.8C1931.8 1664.8 1934.4 1670.8 1937.0 1675.0C1940.1 1680.0 1943.2 1694.7 1946.3 1694.7C1949.2 1694.7 1952.1 1686.1 1955.0 1680.0C1959.2 1671.2 1963.4 1649.4 1967.6 1643.5C1973.4 1635.4 1979.2 1630.5 1985.0 1628.0C1994.8 1623.7 2004.7 1620.9 2014.5 1620.0C2035.8 1618.1 2057.1 1617.6 2078.4 1617.0C2104.0 1616.3 2129.6 1615.9 2155.2 1615.4" stroke="#7a0f40" stroke-width="3.4" stroke-dasharray="3.4 4.0"/>
<path d="M1196.7 1613.7C1223.2 1613.5 1249.7 1613.6 1276.2 1613.2C1283.4 1613.1 1290.5 1609.7 1297.7 1608.3C1306.7 1606.5 1315.6 1604.6 1324.6 1603.5C1340.8 1601.6 1356.9 1602.1 1373.1 1599.4C1376.7 1598.8 1380.4 1596.8 1384.0 1594.0C1386.2 1592.3 1388.4 1584.1 1390.6 1584.1C1391.7 1584.1 1392.7 1590.0 1393.8 1590.0C1394.8 1590.0 1395.8 1586.0 1396.8 1586.0C1397.9 1586.0 1398.9 1594.3 1400.0 1600.0C1401.3 1607.1 1402.7 1627.7 1404.0 1627.7C1407.2 1627.7 1410.3 1618.7 1413.5 1616.9C1418.0 1614.4 1422.4 1612.1 1426.9 1612.1C1446.7 1612.1 1466.4 1612.1 1486.2 1612.1C1522.1 1612.1 1558.0 1614.7 1593.9 1615.6C1622.6 1616.3 1651.3 1617.3 1680.0 1617.5C1713.3 1617.8 1746.7 1618.0 1780.0 1618.0C1790.7 1618.0 1801.3 1616.8 1812.0 1615.8C1819.8 1615.1 1827.6 1614.8 1835.4 1612.6C1838.3 1611.8 1841.1 1607.1 1844.0 1603.0C1846.8 1598.9 1849.7 1589.8 1852.5 1586.0C1856.0 1581.2 1859.6 1575.3 1863.1 1575.3C1865.7 1575.3 1868.4 1579.4 1871.0 1581.0C1873.4 1582.5 1875.7 1584.9 1878.1 1584.9C1881.6 1584.9 1885.2 1582.4 1888.7 1579.6C1890.8 1577.9 1892.9 1574.9 1895.0 1570.0C1896.1 1567.4 1897.2 1560.9 1898.3 1556.1C1899.2 1552.0 1900.2 1543.3 1901.1 1543.3C1901.9 1543.3 1902.7 1559.7 1903.5 1570.0C1904.3 1579.9 1905.0 1594.7 1905.8 1605.1C1906.9 1619.5 1907.9 1642.2 1909.0 1643.5C1911.5 1646.6 1913.9 1646.5 1916.4 1647.8C1920.7 1650.1 1924.9 1652.1 1929.2 1654.2C1934.9 1657.0 1940.6 1662.7 1946.3 1662.7C1950.2 1662.7 1954.1 1655.6 1958.0 1652.0C1962.6 1647.8 1967.3 1642.8 1971.9 1639.3C1977.6 1635.1 1983.2 1630.3 1988.9 1628.6C1997.4 1626.1 2006.0 1624.4 2014.5 1623.9C2035.8 1622.6 2057.1 1622.1 2078.4 1621.8C2104.0 1621.4 2129.6 1621.3 2155.2 1621.1" stroke="#7a0f40" stroke-width="3.4"/>
</g>
<g font-family="'Liberation Sans', Arial, sans-serif">
<text x="1104.4" y="971.4" font-size="50.32" font-weight="bold" fill="#000" textLength="32.6" lengthAdjust="spacingAndGlyphs">C</text>
<text x="1208.2" y="1800.1" font-size="49.18" font-weight="bold" fill="#000" textLength="80.5" lengthAdjust="spacingAndGlyphs">100</text>
<text x="1341.5" y="1800.1" font-size="49.18" font-weight="bold" fill="#000" textLength="80.5" lengthAdjust="spacingAndGlyphs">150</text>
<text x="1476.2" y="1800.1" font-size="49.18" font-weight="bold" fill="#000" textLength="79.1" lengthAdjust="spacingAndGlyphs">200</text>
<text x="1609.5" y="1800.1" font-size="49.18" font-weight="bold" fill="#000" textLength="79.1" lengthAdjust="spacingAndGlyphs">250</text>
<text x="1743.4" y="1800.1" font-size="49.18" font-weight="bold" fill="#000" textLength="78.5" lengthAdjust="spacingAndGlyphs">300</text>
<text x="1876.7" y="1800.1" font-size="49.18" font-weight="bold" fill="#000" textLength="78.5" lengthAdjust="spacingAndGlyphs">350</text>
<text x="2010.3" y="1800.1" font-size="49.18" font-weight="bold" fill="#000" textLength="78.1" lengthAdjust="spacingAndGlyphs">400</text>
<text x="1559.8" y="1863.6" font-size="48.44" font-weight="bold" fill="#000" textLength="231.9" lengthAdjust="spacingAndGlyphs">Field (mT)</text>
<text transform="translate(1100.1 1507.0) rotate(-90)" font-size="48.58" font-weight="bold" textLength="301.9" lengthAdjust="spacingAndGlyphs">EPR Intensity</text>
<text x="1213.7" y="1032.1" font-size="41.16" font-weight="bold" fill="#000" textLength="308.3" lengthAdjust="spacingAndGlyphs">MarHDK no ATP</text>
<text x="1213.7" y="1084.1" font-size="40.29" font-weight="bold" fill="#000" textLength="282.0" lengthAdjust="spacingAndGlyphs">MarHDK + ATP</text>
<text x="1210.2" y="1306.0" font-size="40.00" font-weight="bold" fill="#000" textLength="249.6" lengthAdjust="spacingAndGlyphs">MarH no ATP</text>
<text x="1210.2" y="1357.9" font-size="41.16" font-weight="bold" fill="#000" textLength="223.5" lengthAdjust="spacingAndGlyphs">MarH + ATP</text>
<rect x="1546" y="1012" width="8.5" height="9" fill="#000"/>
<rect x="1563.5" y="1012" width="8.8" height="9" fill="#000"/>
<rect x="1546.8" y="1061.7" width="27.7" height="8.9" fill="#000"/>
<rect x="1480.3" y="1284" width="8.5" height="8" fill="#000"/>
<rect x="1498.5" y="1284" width="8.7" height="8" fill="#000"/>
<rect x="1481.3" y="1332.3" width="27.8" height="9.5" fill="#000"/>
<text x="2076.0" y="1112.9" font-size="37.28" font-weight="bold" fill="#2108ee" textLength="59.3" lengthAdjust="spacingAndGlyphs">6 K</text>
<text x="2064.2" y="1240.8" font-size="38.69" font-weight="bold" fill="#ee2222" textLength="82.8" lengthAdjust="spacingAndGlyphs">15 K</text>
<text x="2075.3" y="1451.7" font-size="38.28" font-weight="bold" fill="#1f3f8c" textLength="60.0" lengthAdjust="spacingAndGlyphs">6 K</text>
<text x="2064.2" y="1600.9" font-size="38.84" font-weight="bold" fill="#7a0f40" textLength="82.8" lengthAdjust="spacingAndGlyphs">15 K</text>
<text x="1388.2" y="1573.3" font-size="50.00" font-weight="normal" fill="#000" textLength="21.3" lengthAdjust="spacingAndGlyphs">*</text>
</g>
<rect x="2" y="1907" width="2163" height="177" fill="#c0c0c0"/>
<g fill="none" stroke="#000">
<rect x="2" y="1906.8" width="2163" height="491.5" stroke-width="4"/>
<line x1="2" y1="2084" x2="2165" y2="2084" stroke-width="4.5"/>
</g>
<g font-family="'Liberation Sans', Arial, sans-serif">
<text x="25.7" y="1972.4" font-size="50.33" font-weight="bold" fill="#000" textLength="35.0" lengthAdjust="spacingAndGlyphs">D</text>
<text x="543.5" y="1989" font-size="42" font-weight="bold" text-anchor="middle">g<tspan font-size="27.5" dy="9">1</tspan><tspan font-size="28" dy="-20.5">a</tspan></text>
<text x="543.5" y="2033.4" font-size="35.0" text-anchor="middle" font-weight="bold" fill="#000">S= 1/2</text>
<text x="717.5" y="1989" font-size="42" font-weight="bold" text-anchor="middle">g<tspan font-size="27.5" dy="9">2</tspan><tspan font-size="28" dy="-20.5">a</tspan></text>
<text x="717.5" y="2033.4" font-size="35.0" text-anchor="middle" font-weight="bold" fill="#000">S= 1/2</text>
<text x="895.0" y="1989" font-size="42" font-weight="bold" text-anchor="middle">g<tspan font-size="27.5" dy="9">3</tspan><tspan font-size="28" dy="-20.5">a</tspan></text>
<text x="895.0" y="2033.4" font-size="35.0" text-anchor="middle" font-weight="bold" fill="#000">S= 1/2</text>
<text x="1077" y="1989" font-size="41" font-weight="bold" text-anchor="middle">E/D<tspan font-size="27" dy="-13">a</tspan></text>
<text x="1078.0" y="2033.2" font-size="35.0" text-anchor="middle" font-weight="bold" fill="#000">S= 3/2</text>
<text x="1337" y="1986.5" font-size="41" font-weight="bold" text-anchor="middle">Population<tspan font-size="27" dy="-13">a</tspan><tspan dy="13"> S</tspan></text>
<text x="1337.0" y="2036.0" font-size="41.0" text-anchor="middle" font-weight="bold" fill="#000">= ½ (%)</text>
<text x="1684.0" y="1960.0" font-size="41.0" text-anchor="middle" font-weight="bold" fill="#000">Protein</text>
<text x="1684.0" y="2011.0" font-size="41.0" text-anchor="middle" font-weight="bold" fill="#000">Concentration</text>
<text x="1684.0" y="2061.0" font-size="41.0" text-anchor="middle" font-weight="bold" fill="#000">(mg/mL)</text>
<text x="2012" y="1983.5" font-size="41" font-weight="bold" text-anchor="middle">Spins/</text>
<text x="2012" y="2036" font-size="41" font-weight="bold" text-anchor="middle">complex<tspan font-size="27" dy="-13">b</tspan></text>
<text x="97.9" y="2139.6" font-size="41.89" font-weight="bold" fill="#000" textLength="261.2" lengthAdjust="spacingAndGlyphs">MarH no ATP</text>
<text x="543.8" y="2139.6" font-size="41.3" text-anchor="middle" font-weight="normal" fill="#000">2.03</text>
<text x="717.5" y="2139.6" font-size="41.3" text-anchor="middle" font-weight="normal" fill="#000">1.95</text>
<text x="894.8" y="2139.6" font-size="41.3" text-anchor="middle" font-weight="normal" fill="#000">1.85</text>
<text x="1077.0" y="2139.6" font-size="41.3" text-anchor="middle" font-weight="normal" fill="#000">0.21</text>
<text x="1338.0" y="2139.6" font-size="41.3" text-anchor="middle" font-weight="normal" fill="#000">18</text>
<text x="1684.0" y="2139.6" font-size="41.3" text-anchor="middle" font-weight="normal" fill="#000">28</text>
<text x="2012.5" y="2139.6" font-size="41.3" text-anchor="middle" font-weight="normal" fill="#000">0.48</text>
<text x="111.3" y="2217.3" font-size="42.33" font-weight="bold" fill="#000" textLength="234.3" lengthAdjust="spacingAndGlyphs">MarH + ATP</text>
<text x="543.8" y="2217.3" font-size="41.3" text-anchor="middle" font-weight="normal" fill="#000">2.03</text>
<text x="717.5" y="2217.3" font-size="41.3" text-anchor="middle" font-weight="normal" fill="#000">1.93</text>
<text x="894.8" y="2217.3" font-size="41.3" text-anchor="middle" font-weight="normal" fill="#000">1.85</text>
<text x="1077.0" y="2217.3" font-size="41.3" text-anchor="middle" font-weight="normal" fill="#000">0.25</text>
<text x="1338.0" y="2217.3" font-size="41.3" text-anchor="middle" font-weight="normal" fill="#000">17</text>
<text x="1684.0" y="2217.3" font-size="41.3" text-anchor="middle" font-weight="normal" fill="#000">28</text>
<text x="2012.5" y="2217.3" font-size="41.3" text-anchor="middle" font-weight="normal" fill="#000">0.34</text>
<text x="67.5" y="2296.2" font-size="42.04" font-weight="bold" fill="#000" textLength="321.6" lengthAdjust="spacingAndGlyphs">MarHDK no ATP</text>
<text x="543.8" y="2296.2" font-size="41.3" text-anchor="middle" font-weight="normal" fill="#000">2.03</text>
<text x="717.5" y="2296.2" font-size="41.3" text-anchor="middle" font-weight="normal" fill="#000">1.94</text>
<text x="894.8" y="2296.2" font-size="41.3" text-anchor="middle" font-weight="normal" fill="#000">1.89</text>
<text x="1077.0" y="2296.2" font-size="41.3" text-anchor="middle" font-weight="normal" fill="#000">0.21</text>
<text x="1338.0" y="2296.2" font-size="41.3" text-anchor="middle" font-weight="normal" fill="#000">26</text>
<text x="1684.0" y="2296.2" font-size="41.3" text-anchor="middle" font-weight="normal" fill="#000">30</text>
<text x="2012.5" y="2296.2" font-size="41.3" text-anchor="middle" font-weight="normal" fill="#000">1.16</text>
<text x="81.0" y="2374.2" font-size="42.18" font-weight="bold" fill="#000" textLength="294.3" lengthAdjust="spacingAndGlyphs">MarHDK + ATP</text>
<text x="543.8" y="2374.2" font-size="41.3" text-anchor="middle" font-weight="normal" fill="#000">2.03</text>
<text x="717.5" y="2374.2" font-size="41.3" text-anchor="middle" font-weight="normal" fill="#000">1.94</text>
<text x="894.8" y="2374.2" font-size="41.3" text-anchor="middle" font-weight="normal" fill="#000">1.89</text>
<text x="1077.0" y="2374.2" font-size="41.3" text-anchor="middle" font-weight="normal" fill="#000">0.25</text>
<text x="1338.0" y="2374.2" font-size="41.3" text-anchor="middle" font-weight="normal" fill="#000">33</text>
<text x="1684.0" y="2374.2" font-size="41.3" text-anchor="middle" font-weight="normal" fill="#000">30</text>
<text x="2012.5" y="2374.2" font-size="41.3" text-anchor="middle" font-weight="normal" fill="#000">1.07</text>
</g>
</svg>
</body></html>
